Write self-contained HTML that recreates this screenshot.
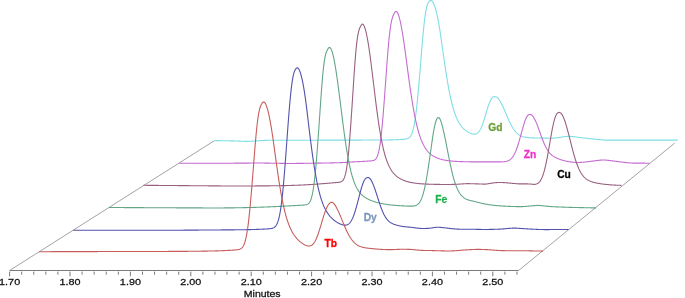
<!DOCTYPE html>
<html><head><meta charset="utf-8"><style>
html,body{margin:0;padding:0;background:#fff;}
svg{display:block;}
</style></head><body>
<svg width="685" height="298" viewBox="0 0 685 298">
<g stroke="#7a7a7a" stroke-width="1" fill="none">
<line x1="9.6" y1="270.5" x2="518.6" y2="270.5"/>
<line x1="9.60" y1="271.6" x2="9.60" y2="276.3"/>
<line x1="21.68" y1="271.6" x2="21.68" y2="274.7"/>
<line x1="33.76" y1="271.6" x2="33.76" y2="274.7"/>
<line x1="45.84" y1="271.6" x2="45.84" y2="274.7"/>
<line x1="57.92" y1="271.6" x2="57.92" y2="274.7"/>
<line x1="70.00" y1="271.6" x2="70.00" y2="276.3"/>
<line x1="82.08" y1="271.6" x2="82.08" y2="274.7"/>
<line x1="94.16" y1="271.6" x2="94.16" y2="274.7"/>
<line x1="106.24" y1="271.6" x2="106.24" y2="274.7"/>
<line x1="118.32" y1="271.6" x2="118.32" y2="274.7"/>
<line x1="130.40" y1="271.6" x2="130.40" y2="276.3"/>
<line x1="142.48" y1="271.6" x2="142.48" y2="274.7"/>
<line x1="154.56" y1="271.6" x2="154.56" y2="274.7"/>
<line x1="166.64" y1="271.6" x2="166.64" y2="274.7"/>
<line x1="178.72" y1="271.6" x2="178.72" y2="274.7"/>
<line x1="190.80" y1="271.6" x2="190.80" y2="276.3"/>
<line x1="202.88" y1="271.6" x2="202.88" y2="274.7"/>
<line x1="214.96" y1="271.6" x2="214.96" y2="274.7"/>
<line x1="227.04" y1="271.6" x2="227.04" y2="274.7"/>
<line x1="239.12" y1="271.6" x2="239.12" y2="274.7"/>
<line x1="251.20" y1="271.6" x2="251.20" y2="276.3"/>
<line x1="263.28" y1="271.6" x2="263.28" y2="274.7"/>
<line x1="275.36" y1="271.6" x2="275.36" y2="274.7"/>
<line x1="287.44" y1="271.6" x2="287.44" y2="274.7"/>
<line x1="299.52" y1="271.6" x2="299.52" y2="274.7"/>
<line x1="311.60" y1="271.6" x2="311.60" y2="276.3"/>
<line x1="323.68" y1="271.6" x2="323.68" y2="274.7"/>
<line x1="335.76" y1="271.6" x2="335.76" y2="274.7"/>
<line x1="347.84" y1="271.6" x2="347.84" y2="274.7"/>
<line x1="359.92" y1="271.6" x2="359.92" y2="274.7"/>
<line x1="372.00" y1="271.6" x2="372.00" y2="276.3"/>
<line x1="384.08" y1="271.6" x2="384.08" y2="274.7"/>
<line x1="396.16" y1="271.6" x2="396.16" y2="274.7"/>
<line x1="408.24" y1="271.6" x2="408.24" y2="274.7"/>
<line x1="420.32" y1="271.6" x2="420.32" y2="274.7"/>
<line x1="432.40" y1="271.6" x2="432.40" y2="276.3"/>
<line x1="444.48" y1="271.6" x2="444.48" y2="274.7"/>
<line x1="456.56" y1="271.6" x2="456.56" y2="274.7"/>
<line x1="468.64" y1="271.6" x2="468.64" y2="274.7"/>
<line x1="480.72" y1="271.6" x2="480.72" y2="274.7"/>
<line x1="492.80" y1="271.6" x2="492.80" y2="276.3"/>
<line x1="504.88" y1="271.6" x2="504.88" y2="274.7"/>
<line x1="516.96" y1="271.6" x2="516.96" y2="274.7"/>
</g>
<g stroke="#8c8c8c" stroke-width="0.8" fill="none">
<line x1="9.6" y1="270.5" x2="214.5" y2="140.6"/>
<line x1="518.6" y1="270.5" x2="674.7" y2="143.1"/>
</g>
<path d="M214.50,140.62 L215.00,140.62 L215.50,140.63 L216.00,140.63 L216.50,140.64 L217.00,140.64 L217.50,140.65 L218.00,140.65 L218.50,140.66 L219.00,140.67 L219.50,140.67 L220.00,140.68 L220.50,140.69 L221.00,140.70 L221.50,140.70 L222.00,140.71 L222.50,140.72 L223.00,140.72 L223.50,140.73 L224.00,140.74 L224.50,140.75 L225.00,140.75 L225.50,140.76 L226.00,140.77 L226.50,140.78 L227.00,140.78 L227.50,140.79 L228.00,140.80 L228.50,140.81 L229.00,140.81 L229.50,140.82 L230.00,140.83 L230.50,140.84 L231.00,140.85 L231.50,140.86 L232.00,140.86 L232.50,140.88 L233.00,140.89 L233.50,140.90 L234.00,140.91 L234.50,140.93 L235.00,140.94 L235.50,140.96 L236.00,140.98 L236.50,141.00 L237.00,141.02 L237.50,141.04 L238.00,141.06 L238.50,141.08 L239.00,141.10 L239.50,141.13 L240.00,141.15 L240.50,141.17 L241.00,141.20 L241.50,141.22 L242.00,141.24 L242.50,141.27 L243.00,141.29 L243.50,141.30 L244.00,141.32 L244.50,141.34 L245.00,141.35 L245.50,141.36 L246.00,141.36 L246.50,141.36 L247.00,141.36 L247.50,141.36 L248.00,141.35 L248.50,141.33 L249.00,141.32 L249.50,141.30 L250.00,141.27 L250.50,141.25 L251.00,141.22 L251.50,141.19 L252.00,141.16 L252.50,141.13 L253.00,141.10 L253.50,141.07 L254.00,141.04 L254.50,141.00 L255.00,140.97 L255.50,140.94 L256.00,140.91 L256.50,140.87 L257.00,140.84 L257.50,140.81 L258.00,140.78 L258.50,140.74 L259.00,140.71 L259.50,140.68 L260.00,140.65 L260.50,140.61 L261.00,140.58 L261.50,140.55 L262.00,140.52 L262.50,140.50 L263.00,140.47 L263.50,140.45 L264.00,140.42 L264.50,140.40 L265.00,140.38 L265.50,140.37 L266.00,140.35 L266.50,140.34 L267.00,140.33 L267.50,140.32 L268.00,140.31 L268.50,140.31 L269.00,140.30 L269.50,140.30 L270.00,140.29 L270.50,140.29 L271.00,140.29 L271.50,140.29 L272.00,140.29 L272.50,140.28 L273.00,140.28 L273.50,140.28 L274.00,140.28 L274.50,140.28 L275.00,140.28 L275.50,140.28 L276.00,140.28 L276.50,140.27 L277.00,140.27 L277.50,140.27 L278.00,140.27 L278.50,140.27 L279.00,140.27 L279.50,140.27 L280.00,140.27 L280.50,140.26 L281.00,140.26 L281.50,140.26 L282.00,140.26 L282.50,140.26 L283.00,140.26 L283.50,140.26 L284.00,140.26 L284.50,140.26 L285.00,140.25 L285.50,140.25 L286.00,140.25 L286.50,140.25 L287.00,140.25 L287.50,140.25 L288.00,140.25 L288.50,140.25 L289.00,140.24 L289.50,140.24 L290.00,140.24 L290.50,140.24 L291.00,140.24 L291.50,140.24 L292.00,140.24 L292.50,140.24 L293.00,140.24 L293.50,140.23 L294.00,140.23 L294.50,140.23 L295.00,140.23 L295.50,140.23 L296.00,140.23 L296.50,140.23 L297.00,140.23 L297.50,140.23 L298.00,140.22 L298.50,140.22 L299.00,140.22 L299.50,140.22 L300.00,140.22 L300.50,140.22 L301.00,140.22 L301.50,140.22 L302.00,140.21 L302.50,140.21 L303.00,140.21 L303.50,140.21 L304.00,140.21 L304.50,140.21 L305.00,140.21 L305.50,140.21 L306.00,140.21 L306.50,140.20 L307.00,140.20 L307.50,140.20 L308.00,140.20 L308.50,140.20 L309.00,140.20 L309.50,140.20 L310.00,140.20 L310.50,140.20 L311.00,140.19 L311.50,140.19 L312.00,140.19 L312.50,140.19 L313.00,140.19 L313.50,140.19 L314.00,140.19 L314.50,140.19 L315.00,140.18 L315.50,140.18 L316.00,140.18 L316.50,140.18 L317.00,140.18 L317.50,140.18 L318.00,140.18 L318.50,140.18 L319.00,140.18 L319.50,140.17 L320.00,140.17 L320.50,140.17 L321.00,140.17 L321.50,140.17 L322.00,140.17 L322.50,140.17 L323.00,140.17 L323.50,140.17 L324.00,140.16 L324.50,140.16 L325.00,140.16 L325.50,140.16 L326.00,140.16 L326.50,140.16 L327.00,140.16 L327.50,140.16 L328.00,140.15 L328.50,140.15 L329.00,140.15 L329.50,140.15 L330.00,140.15 L330.50,140.15 L331.00,140.15 L331.50,140.15 L332.00,140.15 L332.50,140.14 L333.00,140.14 L333.50,140.14 L334.00,140.14 L334.50,140.14 L335.00,140.14 L335.50,140.14 L336.00,140.14 L336.50,140.14 L337.00,140.13 L337.50,140.13 L338.00,140.13 L338.50,140.13 L339.00,140.13 L339.50,140.13 L340.00,140.13 L340.50,140.13 L341.00,140.12 L341.50,140.12 L342.00,140.12 L342.50,140.12 L343.00,140.12 L343.50,140.12 L344.00,140.12 L344.50,140.12 L345.00,140.12 L345.50,140.11 L346.00,140.11 L346.50,140.11 L347.00,140.11 L347.50,140.11 L348.00,140.11 L348.50,140.11 L349.00,140.11 L349.50,140.11 L350.00,140.10 L350.50,140.10 L351.00,140.10 L351.50,140.10 L352.00,140.10 L352.50,140.10 L353.00,140.10 L353.50,140.10 L354.00,140.09 L354.50,140.09 L355.00,140.09 L355.50,140.09 L356.00,140.09 L356.50,140.09 L357.00,140.09 L357.50,140.09 L358.00,140.09 L358.50,140.08 L359.00,140.08 L359.50,140.08 L360.00,140.08 L360.50,140.08 L361.00,140.08 L361.50,140.08 L362.00,140.08 L362.50,140.07 L363.00,140.07 L363.50,140.07 L364.00,140.07 L364.50,140.07 L365.00,140.07 L365.50,140.07 L366.00,140.07 L366.50,140.06 L367.00,140.06 L367.50,140.06 L368.00,140.06 L368.50,140.06 L369.00,140.06 L369.50,140.06 L370.00,140.05 L370.50,140.05 L371.00,140.05 L371.50,140.05 L372.00,140.05 L372.50,140.05 L373.00,140.04 L373.50,140.04 L374.00,140.04 L374.50,140.04 L375.00,140.04 L375.50,140.03 L376.00,140.03 L376.50,140.03 L377.00,140.03 L377.50,140.02 L378.00,140.02 L378.50,140.02 L379.00,140.02 L379.50,140.01 L380.00,140.01 L380.50,140.01 L381.00,140.00 L381.50,140.00 L382.00,140.00 L382.50,139.99 L383.00,139.99 L383.50,139.98 L384.00,139.98 L384.50,139.97 L385.00,139.97 L385.50,139.96 L386.00,139.95 L386.50,139.95 L387.00,139.94 L387.50,139.93 L388.00,139.93 L388.50,139.92 L389.00,139.91 L389.50,139.90 L390.00,139.89 L390.50,139.88 L391.00,139.87 L391.50,139.86 L392.00,139.85 L392.50,139.83 L393.00,139.82 L393.50,139.80 L394.00,139.79 L394.50,139.77 L395.00,139.75 L395.50,139.74 L396.00,139.72 L396.50,139.69 L397.00,139.67 L397.50,139.65 L398.00,139.62 L398.50,139.60 L399.00,139.57 L399.50,139.54 L400.00,139.52 L400.50,139.49 L401.00,139.45 L401.50,139.42 L402.00,139.39 L402.50,139.35 L403.00,139.31 L403.50,139.27 L404.00,139.22 L404.50,139.17 L405.00,139.11 L405.50,139.04 L406.00,138.96 L406.50,138.85 L407.00,138.73 L407.50,138.57 L408.00,138.37 L408.50,138.12 L409.00,137.79 L409.50,137.39 L410.00,136.88 L410.50,136.24 L411.00,135.44 L411.50,134.47 L412.00,133.29 L412.50,131.87 L413.00,130.19 L413.50,128.20 L414.00,125.89 L414.50,123.22 L415.00,120.19 L415.50,116.78 L416.00,112.98 L416.50,108.80 L417.00,104.25 L417.50,99.34 L418.00,94.11 L418.50,88.60 L419.00,82.86 L419.50,76.94 L420.00,70.90 L420.50,64.80 L420.99,58.73 L421.48,52.73 L421.96,46.89 L422.44,41.26 L422.92,35.90 L423.39,30.86 L423.86,26.18 L424.33,21.91 L424.81,18.05 L425.28,14.64 L425.75,11.66 L426.23,9.12 L426.71,6.99 L427.20,5.26 L427.68,3.89 L428.17,2.83 L428.67,2.04 L429.16,1.47 L429.66,1.04 L430.15,0.68 L430.65,0.42 L431.15,0.42 L431.65,0.66 L432.16,1.12 L432.66,1.78 L433.17,2.64 L433.68,3.69 L434.19,4.92 L434.71,6.32 L435.22,7.89 L435.74,9.64 L436.25,11.56 L436.77,13.67 L437.29,15.95 L437.81,18.43 L438.33,21.10 L438.85,23.97 L439.37,27.04 L439.89,30.30 L440.41,33.75 L440.92,37.36 L441.44,40.99 L441.95,44.64 L442.47,48.27 L442.98,51.89 L443.49,55.46 L443.99,59.00 L444.50,62.48 L445.00,65.89 L445.50,69.23 L446.00,72.49 L446.50,75.66 L447.00,78.74 L447.50,81.72 L448.00,84.60 L448.50,87.38 L449.00,90.05 L449.50,92.61 L450.00,95.06 L450.50,97.41 L451.00,99.65 L451.50,101.78 L452.00,103.80 L452.50,105.72 L453.00,107.55 L453.50,109.27 L454.00,110.90 L454.50,112.44 L455.00,113.88 L455.50,115.25 L456.00,116.53 L456.50,117.74 L457.00,118.87 L457.50,119.94 L458.00,120.94 L458.50,121.87 L459.00,122.75 L459.50,123.58 L460.00,124.35 L460.50,125.08 L461.00,125.76 L461.50,126.40 L462.00,127.00 L462.50,127.56 L463.00,128.09 L463.50,128.59 L464.00,129.06 L464.50,129.51 L465.00,129.93 L465.50,130.32 L466.00,130.70 L466.50,131.05 L467.00,131.39 L467.50,131.71 L468.00,132.01 L468.50,132.29 L469.00,132.56 L469.50,132.81 L470.00,133.04 L470.50,133.26 L471.00,133.46 L471.50,133.64 L472.00,133.80 L472.50,133.93 L473.00,134.04 L473.50,134.12 L474.00,134.16 L474.50,134.16 L475.00,134.13 L475.50,134.04 L476.00,133.90 L476.50,133.70 L477.00,133.43 L477.50,133.08 L478.00,132.66 L478.50,132.15 L479.00,131.54 L479.50,130.84 L480.00,130.04 L480.50,129.14 L481.00,128.13 L481.50,127.02 L482.00,125.80 L482.50,124.49 L483.00,123.09 L483.50,121.61 L484.00,120.06 L484.50,118.44 L485.00,116.79 L485.50,115.10 L486.00,113.40 L486.50,111.71 L487.00,110.04 L487.50,108.41 L488.00,106.84 L488.50,105.34 L489.00,103.93 L489.50,102.63 L490.00,101.44 L490.50,100.38 L491.00,99.46 L491.50,98.66 L492.00,98.01 L492.50,97.49 L493.00,97.10 L493.50,96.84 L494.00,96.69 L494.50,96.63 L495.00,96.63 L495.50,96.70 L496.00,96.85 L496.50,97.09 L497.00,97.40 L497.50,97.80 L498.00,98.29 L498.50,98.85 L499.00,99.50 L499.50,100.21 L500.00,100.99 L500.50,101.83 L501.00,102.73 L501.50,103.69 L502.00,104.69 L502.50,105.74 L503.00,106.82 L503.50,107.94 L504.00,109.08 L504.50,110.24 L505.00,111.42 L505.50,112.60 L506.00,113.79 L506.50,114.97 L507.00,116.15 L507.50,117.31 L508.00,118.46 L508.50,119.58 L509.00,120.68 L509.50,121.75 L510.00,122.79 L510.50,123.80 L511.00,124.77 L511.50,125.70 L512.00,126.59 L512.50,127.44 L513.00,128.24 L513.50,129.01 L514.00,129.73 L514.50,130.41 L515.00,131.05 L515.50,131.65 L516.00,132.21 L516.50,132.73 L517.00,133.21 L517.50,133.66 L518.00,134.07 L518.50,134.45 L519.00,134.80 L519.50,135.12 L520.00,135.41 L520.50,135.67 L521.00,135.91 L521.50,136.13 L522.00,136.33 L522.50,136.51 L523.00,136.67 L523.50,136.81 L524.00,136.94 L524.50,137.06 L525.00,137.16 L525.50,137.25 L526.00,137.34 L526.50,137.41 L527.00,137.47 L527.50,137.53 L528.00,137.59 L528.50,137.63 L529.00,137.68 L529.50,137.71 L530.00,137.75 L530.50,137.78 L531.00,137.80 L531.50,137.83 L532.00,137.85 L532.50,137.87 L533.00,137.89 L533.50,137.91 L534.00,137.92 L534.50,137.94 L535.00,137.95 L535.50,137.97 L536.00,137.98 L536.50,137.99 L537.00,138.00 L537.50,138.01 L538.00,138.02 L538.50,138.03 L539.00,138.04 L539.50,138.05 L540.00,138.06 L540.50,138.07 L541.00,138.08 L541.50,138.08 L542.00,138.09 L542.50,138.10 L543.00,138.11 L543.50,138.12 L544.00,138.12 L544.50,138.13 L545.00,138.14 L545.50,138.15 L546.00,138.15 L546.50,138.16 L547.00,138.16 L547.50,138.17 L548.00,138.18 L548.50,138.18 L549.00,138.18 L549.50,138.19 L550.00,138.19 L550.50,138.19 L551.00,138.19 L551.50,138.18 L552.00,138.17 L552.50,138.16 L553.00,138.15 L553.50,138.13 L554.00,138.10 L554.50,138.07 L555.00,138.03 L555.50,137.99 L556.00,137.94 L556.50,137.89 L557.00,137.83 L557.50,137.76 L558.00,137.69 L558.50,137.62 L559.00,137.54 L559.50,137.46 L560.00,137.38 L560.50,137.30 L561.00,137.22 L561.50,137.13 L562.00,137.05 L562.50,136.96 L563.00,136.88 L563.50,136.80 L564.00,136.73 L564.50,136.65 L565.00,136.58 L565.50,136.52 L566.00,136.46 L566.50,136.42 L567.00,136.38 L567.50,136.35 L568.00,136.33 L568.50,136.32 L569.00,136.32 L569.50,136.33 L570.00,136.34 L570.50,136.37 L571.00,136.41 L571.50,136.45 L572.00,136.50 L572.50,136.55 L573.00,136.61 L573.50,136.66 L574.00,136.73 L574.50,136.79 L575.00,136.85 L575.50,136.92 L576.00,136.98 L576.50,137.05 L577.00,137.11 L577.50,137.18 L578.00,137.24 L578.50,137.31 L579.00,137.37 L579.50,137.44 L580.00,137.50 L580.50,137.57 L581.00,137.63 L581.50,137.69 L582.00,137.76 L582.50,137.82 L583.00,137.88 L583.50,137.94 L584.00,138.00 L584.50,138.06 L585.00,138.12 L585.50,138.18 L586.00,138.24 L586.50,138.30 L587.00,138.35 L587.50,138.41 L588.00,138.46 L588.50,138.51 L589.00,138.57 L589.50,138.62 L590.00,138.67 L590.50,138.72 L591.00,138.77 L591.50,138.82 L592.00,138.88 L592.50,138.93 L593.00,138.98 L593.50,139.03 L594.00,139.08 L594.50,139.13 L595.00,139.18 L595.50,139.23 L596.00,139.28 L596.50,139.33 L597.00,139.39 L597.50,139.44 L598.00,139.49 L598.50,139.54 L599.00,139.59 L599.50,139.64 L600.00,139.68 L600.50,139.73 L601.00,139.78 L601.50,139.82 L602.00,139.87 L602.50,139.91 L603.00,139.95 L603.50,139.98 L604.00,140.02 L604.50,140.04 L605.00,140.07 L605.50,140.09 L606.00,140.11 L606.50,140.13 L607.00,140.14 L607.50,140.15 L608.00,140.15 L608.50,140.16 L609.00,140.16 L609.50,140.16 L610.00,140.16 L610.50,140.16 L611.00,140.16 L611.50,140.16 L612.00,140.15 L612.50,140.15 L613.00,140.15 L613.50,140.14 L614.00,140.14 L614.50,140.14 L615.00,140.14 L615.50,140.13 L616.00,140.13 L616.50,140.13 L617.00,140.12 L617.50,140.12 L618.00,140.12 L618.50,140.12 L619.00,140.11 L619.50,140.11 L620.00,140.11 L620.50,140.11 L621.00,140.11 L621.50,140.10 L622.00,140.10 L622.50,140.10 L623.00,140.10 L623.50,140.10 L624.00,140.10 L624.50,140.10 L625.00,140.10 L625.50,140.10 L626.00,140.10 L626.50,140.10 L627.00,140.10 L627.50,140.10 L628.00,140.10 L628.50,140.10 L629.00,140.10 L629.50,140.10 L630.00,140.10 L630.50,140.10 L631.00,140.10 L631.50,140.10 L632.00,140.10 L632.50,140.10 L633.00,140.10 L633.50,140.10 L634.00,140.10 L634.50,140.10 L635.00,140.10 L635.50,140.10 L636.00,140.10 L636.50,140.10 L637.00,140.10 L637.50,140.10 L638.00,140.10 L638.50,140.10 L639.00,140.10 L639.50,140.10 L640.00,140.10 L640.50,140.10 L641.00,140.10 L641.50,140.10 L642.00,140.10 L642.50,140.10 L643.00,140.10 L643.50,140.10 L644.00,140.10 L644.50,140.10 L645.00,140.10 L645.50,140.10 L646.00,140.10 L646.50,140.10 L647.00,140.10 L647.50,140.10 L648.00,140.10 L648.50,140.10 L649.00,140.10 L649.50,140.10 L650.00,140.10 L650.50,140.10 L651.00,140.10 L651.50,140.10 L652.00,140.10 L652.50,140.10 L653.00,140.10 L653.50,140.10 L654.00,140.10 L654.50,140.10 L655.00,140.10 L655.50,140.10 L656.00,140.10 L656.50,140.10 L657.00,140.10 L657.50,140.10 L658.00,140.10 L658.50,140.10 L659.00,140.10 L659.50,140.10 L660.00,140.10 L660.50,140.10 L661.00,140.10 L661.50,140.10 L662.00,140.10 L662.50,140.10 L663.00,140.10 L663.50,140.10 L664.00,140.10 L664.50,140.10 L665.00,140.10 L665.50,140.10 L666.00,140.10 L666.50,140.10 L667.00,140.10 L667.50,140.10 L668.00,140.10 L668.50,140.10 L669.00,140.10 L669.50,140.10 L670.00,140.10 L670.50,140.10 L671.00,140.10 L671.50,140.10 L672.00,140.10 L672.50,140.10 L673.00,140.10 L673.50,140.10 L674.00,140.10 L674.50,140.10 L675.00,140.10 L675.50,140.10 L676.00,140.10 L676.50,140.10 L677.00,140.10 L677.50,140.10 L677.80,140.10" stroke="#7EDEE4" stroke-width="1.1" fill="none" stroke-linejoin="round"/>
<path d="M179.20,163.20 L179.70,163.20 L180.20,163.20 L180.70,163.20 L181.20,163.20 L181.70,163.20 L182.20,163.20 L182.70,163.20 L183.20,163.20 L183.70,163.20 L184.20,163.20 L184.70,163.20 L185.20,163.20 L185.70,163.20 L186.20,163.20 L186.70,163.20 L187.20,163.20 L187.70,163.20 L188.20,163.20 L188.70,163.20 L189.20,163.20 L189.70,163.20 L190.20,163.20 L190.70,163.20 L191.20,163.20 L191.70,163.20 L192.20,163.20 L192.70,163.20 L193.20,163.20 L193.70,163.20 L194.20,163.20 L194.70,163.20 L195.20,163.20 L195.70,163.20 L196.20,163.20 L196.70,163.20 L197.20,163.20 L197.70,163.20 L198.20,163.20 L198.70,163.20 L199.20,163.20 L199.70,163.20 L200.20,163.20 L200.70,163.20 L201.20,163.20 L201.70,163.20 L202.20,163.20 L202.70,163.20 L203.20,163.20 L203.70,163.20 L204.20,163.20 L204.70,163.20 L205.20,163.20 L205.70,163.20 L206.20,163.20 L206.70,163.20 L207.20,163.20 L207.70,163.20 L208.20,163.20 L208.70,163.20 L209.20,163.20 L209.70,163.20 L210.20,163.20 L210.70,163.20 L211.20,163.20 L211.70,163.20 L212.20,163.20 L212.70,163.20 L213.20,163.20 L213.70,163.20 L214.20,163.20 L214.70,163.20 L215.20,163.20 L215.70,163.20 L216.20,163.20 L216.70,163.20 L217.20,163.20 L217.70,163.20 L218.20,163.20 L218.70,163.20 L219.20,163.20 L219.70,163.20 L220.20,163.20 L220.70,163.20 L221.20,163.20 L221.70,163.20 L222.20,163.20 L222.70,163.20 L223.20,163.20 L223.70,163.20 L224.20,163.20 L224.70,163.20 L225.20,163.20 L225.70,163.20 L226.20,163.20 L226.70,163.20 L227.20,163.20 L227.70,163.20 L228.20,163.20 L228.70,163.20 L229.20,163.19 L229.70,163.19 L230.20,163.19 L230.70,163.19 L231.20,163.19 L231.70,163.19 L232.20,163.18 L232.70,163.18 L233.20,163.18 L233.70,163.18 L234.20,163.17 L234.70,163.17 L235.20,163.17 L235.70,163.16 L236.20,163.16 L236.70,163.16 L237.20,163.15 L237.70,163.15 L238.20,163.15 L238.70,163.14 L239.20,163.14 L239.70,163.14 L240.20,163.14 L240.70,163.13 L241.20,163.13 L241.70,163.13 L242.20,163.12 L242.70,163.12 L243.20,163.12 L243.70,163.11 L244.20,163.11 L244.70,163.11 L245.20,163.10 L245.70,163.10 L246.20,163.10 L246.70,163.09 L247.20,163.09 L247.70,163.09 L248.20,163.08 L248.70,163.08 L249.20,163.08 L249.70,163.07 L250.20,163.07 L250.70,163.07 L251.20,163.07 L251.70,163.06 L252.20,163.06 L252.70,163.06 L253.20,163.05 L253.70,163.05 L254.20,163.05 L254.70,163.04 L255.20,163.04 L255.70,163.04 L256.20,163.03 L256.70,163.03 L257.20,163.03 L257.70,163.02 L258.20,163.02 L258.70,163.02 L259.20,163.02 L259.70,163.02 L260.20,163.02 L260.70,163.03 L261.20,163.03 L261.70,163.04 L262.20,163.05 L262.70,163.05 L263.20,163.06 L263.70,163.07 L264.20,163.08 L264.70,163.09 L265.20,163.09 L265.70,163.10 L266.20,163.11 L266.70,163.12 L267.20,163.13 L267.70,163.14 L268.20,163.14 L268.70,163.15 L269.20,163.16 L269.70,163.17 L270.20,163.18 L270.70,163.18 L271.20,163.19 L271.70,163.20 L272.20,163.21 L272.70,163.22 L273.20,163.23 L273.70,163.23 L274.20,163.24 L274.70,163.25 L275.20,163.26 L275.70,163.27 L276.20,163.27 L276.70,163.28 L277.20,163.29 L277.70,163.30 L278.20,163.31 L278.70,163.32 L279.20,163.32 L279.70,163.33 L280.20,163.34 L280.70,163.35 L281.20,163.36 L281.70,163.36 L282.20,163.37 L282.70,163.38 L283.20,163.39 L283.70,163.40 L284.20,163.41 L284.70,163.41 L285.20,163.42 L285.70,163.43 L286.20,163.44 L286.70,163.45 L287.20,163.45 L287.70,163.46 L288.20,163.47 L288.70,163.47 L289.20,163.48 L289.70,163.48 L290.20,163.48 L290.70,163.48 L291.20,163.48 L291.70,163.48 L292.20,163.47 L292.70,163.47 L293.20,163.46 L293.70,163.45 L294.20,163.45 L294.70,163.44 L295.20,163.44 L295.70,163.43 L296.20,163.42 L296.70,163.42 L297.20,163.41 L297.70,163.41 L298.20,163.40 L298.70,163.39 L299.20,163.39 L299.70,163.38 L300.20,163.37 L300.70,163.37 L301.20,163.36 L301.70,163.36 L302.20,163.35 L302.70,163.34 L303.20,163.34 L303.70,163.33 L304.20,163.32 L304.70,163.32 L305.20,163.31 L305.70,163.30 L306.20,163.30 L306.70,163.29 L307.20,163.28 L307.70,163.28 L308.20,163.27 L308.70,163.26 L309.20,163.26 L309.70,163.25 L310.20,163.24 L310.70,163.24 L311.20,163.23 L311.70,163.22 L312.20,163.22 L312.70,163.21 L313.20,163.20 L313.70,163.20 L314.20,163.19 L314.70,163.18 L315.20,163.17 L315.70,163.17 L316.20,163.16 L316.70,163.15 L317.20,163.14 L317.70,163.14 L318.20,163.13 L318.70,163.12 L319.20,163.11 L319.70,163.10 L320.20,163.10 L320.70,163.09 L321.20,163.08 L321.70,163.07 L322.20,163.06 L322.70,163.06 L323.20,163.05 L323.70,163.04 L324.20,163.03 L324.70,163.02 L325.20,163.01 L325.70,163.00 L326.20,162.99 L326.70,162.99 L327.20,162.98 L327.70,162.97 L328.20,162.96 L328.70,162.95 L329.20,162.94 L329.70,162.93 L330.20,162.92 L330.70,162.91 L331.20,162.89 L331.70,162.88 L332.20,162.87 L332.70,162.86 L333.20,162.85 L333.70,162.84 L334.20,162.83 L334.70,162.81 L335.20,162.80 L335.70,162.79 L336.20,162.78 L336.70,162.76 L337.20,162.75 L337.70,162.74 L338.20,162.73 L338.70,162.71 L339.20,162.70 L339.70,162.68 L340.20,162.67 L340.70,162.65 L341.20,162.64 L341.70,162.62 L342.20,162.60 L342.70,162.57 L343.20,162.55 L343.70,162.52 L344.20,162.49 L344.70,162.45 L345.20,162.42 L345.70,162.39 L346.20,162.35 L346.70,162.31 L347.20,162.28 L347.70,162.24 L348.20,162.21 L348.70,162.17 L349.20,162.13 L349.70,162.09 L350.20,162.06 L350.70,162.02 L351.20,161.99 L351.70,161.96 L352.20,161.93 L352.70,161.90 L353.20,161.88 L353.70,161.85 L354.20,161.83 L354.70,161.81 L355.20,161.79 L355.70,161.76 L356.20,161.74 L356.70,161.72 L357.20,161.70 L357.70,161.67 L358.20,161.65 L358.70,161.63 L359.20,161.60 L359.70,161.58 L360.20,161.55 L360.70,161.53 L361.20,161.50 L361.70,161.48 L362.20,161.45 L362.70,161.42 L363.20,161.40 L363.70,161.37 L364.20,161.34 L364.70,161.31 L365.20,161.28 L365.70,161.25 L366.20,161.22 L366.70,161.19 L367.20,161.16 L367.70,161.13 L368.20,161.10 L368.70,161.07 L369.20,161.03 L369.70,161.00 L370.20,160.96 L370.70,160.92 L371.20,160.87 L371.70,160.81 L372.20,160.74 L372.70,160.65 L373.20,160.53 L373.70,160.38 L374.20,160.17 L374.70,159.89 L375.20,159.52 L375.70,159.04 L376.20,158.40 L376.70,157.58 L377.20,156.54 L377.70,155.24 L378.20,153.63 L378.70,151.67 L379.20,149.32 L379.70,146.54 L380.20,143.31 L380.70,139.61 L381.20,135.42 L381.70,130.76 L382.20,125.63 L382.70,120.06 L383.20,114.11 L383.70,107.83 L384.20,101.29 L384.70,94.57 L385.20,87.74 L385.70,80.91 L386.19,74.14 L386.67,67.53 L387.15,61.16 L387.62,55.09 L388.09,49.38 L388.56,44.08 L389.02,39.22 L389.49,34.84 L389.95,30.92 L390.42,27.48 L390.89,24.49 L391.37,21.93 L391.85,19.77 L392.33,17.97 L392.81,16.48 L393.30,15.26 L393.78,14.24 L394.27,13.38 L394.76,12.61 L395.26,11.89 L395.75,11.46 L396.25,11.40 L396.75,11.66 L397.26,12.25 L397.77,13.14 L398.28,14.34 L398.80,15.82 L399.32,17.57 L399.84,19.59 L400.37,21.85 L400.89,24.35 L401.42,27.07 L401.95,30.00 L402.47,33.11 L403.00,36.40 L403.53,39.84 L404.05,43.43 L404.58,47.13 L405.10,50.93 L405.62,54.76 L406.14,58.62 L406.65,62.47 L407.17,66.32 L407.68,70.14 L408.19,73.92 L408.69,77.66 L409.20,81.33 L409.70,84.93 L410.20,88.46 L410.70,91.89 L411.20,95.24 L411.70,98.48 L412.20,101.62 L412.70,104.66 L413.20,107.58 L413.70,110.40 L414.20,113.10 L414.70,115.69 L415.20,118.17 L415.70,120.53 L416.20,122.79 L416.70,124.93 L417.20,126.97 L417.70,128.91 L418.20,130.74 L418.70,132.48 L419.20,134.13 L419.70,135.68 L420.20,137.15 L420.70,138.54 L421.20,139.84 L421.70,141.07 L422.20,142.23 L422.70,143.32 L423.20,144.35 L423.70,145.32 L424.20,146.23 L424.70,147.09 L425.20,147.89 L425.70,148.65 L426.20,149.37 L426.70,150.04 L427.20,150.67 L427.70,151.27 L428.20,151.83 L428.70,152.36 L429.20,152.86 L429.70,153.33 L430.20,153.78 L430.70,154.20 L431.20,154.60 L431.70,154.98 L432.20,155.33 L432.70,155.67 L433.20,155.99 L433.70,156.29 L434.20,156.58 L434.70,156.85 L435.20,157.11 L435.70,157.35 L436.20,157.58 L436.70,157.80 L437.20,158.01 L437.70,158.21 L438.20,158.40 L438.70,158.58 L439.20,158.75 L439.70,158.91 L440.20,159.06 L440.70,159.21 L441.20,159.34 L441.70,159.47 L442.20,159.60 L442.70,159.72 L443.20,159.83 L443.70,159.93 L444.20,160.03 L444.70,160.13 L445.20,160.22 L445.70,160.31 L446.20,160.39 L446.70,160.47 L447.20,160.54 L447.70,160.61 L448.20,160.68 L448.70,160.74 L449.20,160.80 L449.70,160.86 L450.20,160.91 L450.70,160.96 L451.20,161.01 L451.70,161.06 L452.20,161.10 L452.70,161.15 L453.20,161.19 L453.70,161.23 L454.20,161.26 L454.70,161.30 L455.20,161.33 L455.70,161.36 L456.20,161.39 L456.70,161.42 L457.20,161.45 L457.70,161.47 L458.20,161.50 L458.70,161.52 L459.20,161.54 L459.70,161.56 L460.20,161.58 L460.70,161.60 L461.20,161.62 L461.70,161.64 L462.20,161.66 L462.70,161.67 L463.20,161.69 L463.70,161.70 L464.20,161.72 L464.70,161.73 L465.20,161.74 L465.70,161.75 L466.20,161.76 L466.70,161.77 L467.20,161.78 L467.70,161.79 L468.20,161.80 L468.70,161.81 L469.20,161.82 L469.70,161.83 L470.20,161.84 L470.70,161.84 L471.20,161.85 L471.70,161.86 L472.20,161.86 L472.70,161.87 L473.20,161.87 L473.70,161.88 L474.20,161.88 L474.70,161.89 L475.20,161.89 L475.70,161.89 L476.20,161.90 L476.70,161.90 L477.20,161.90 L477.70,161.91 L478.20,161.91 L478.70,161.91 L479.20,161.91 L479.70,161.91 L480.20,161.92 L480.70,161.92 L481.20,161.92 L481.70,161.92 L482.20,161.92 L482.70,161.92 L483.20,161.92 L483.70,161.92 L484.20,161.92 L484.70,161.92 L485.20,161.92 L485.70,161.92 L486.20,161.92 L486.70,161.92 L487.20,161.92 L487.70,161.92 L488.20,161.92 L488.70,161.92 L489.20,161.92 L489.70,161.92 L490.20,161.92 L490.70,161.92 L491.20,161.92 L491.70,161.92 L492.20,161.92 L492.70,161.91 L493.20,161.91 L493.70,161.91 L494.20,161.91 L494.70,161.91 L495.20,161.91 L495.70,161.91 L496.20,161.90 L496.70,161.90 L497.20,161.90 L497.70,161.89 L498.20,161.89 L498.70,161.89 L499.20,161.88 L499.70,161.87 L500.20,161.86 L500.70,161.85 L501.20,161.84 L501.70,161.82 L502.20,161.80 L502.70,161.78 L503.20,161.74 L503.70,161.70 L504.20,161.66 L504.70,161.59 L505.20,161.52 L505.70,161.43 L506.20,161.33 L506.70,161.20 L507.20,161.06 L507.70,160.88 L508.20,160.68 L508.70,160.44 L509.20,160.17 L509.70,159.85 L510.20,159.49 L510.70,159.08 L511.20,158.61 L511.70,158.09 L512.20,157.49 L512.70,156.83 L513.20,156.10 L513.70,155.29 L514.20,154.40 L514.70,153.42 L515.20,152.36 L515.70,151.22 L516.20,149.99 L516.70,148.67 L517.20,147.27 L517.70,145.79 L518.20,144.23 L518.70,142.61 L519.20,140.92 L519.70,139.18 L520.20,137.40 L520.70,135.59 L521.20,133.76 L521.70,131.93 L522.20,130.11 L522.70,128.32 L523.20,126.58 L523.70,124.89 L524.20,123.29 L524.70,121.77 L525.20,120.37 L525.70,119.09 L526.20,117.95 L526.70,116.96 L527.20,116.13 L527.70,115.47 L528.20,114.99 L528.70,114.68 L529.20,114.54 L529.70,114.48 L530.20,114.50 L530.70,114.61 L531.20,114.82 L531.70,115.13 L532.20,115.54 L532.70,116.06 L533.20,116.69 L533.70,117.41 L534.20,118.23 L534.70,119.15 L535.20,120.15 L535.70,121.23 L536.20,122.39 L536.70,123.61 L537.20,124.89 L537.70,126.21 L538.20,127.58 L538.70,128.97 L539.20,130.38 L539.70,131.80 L540.20,133.21 L540.70,134.63 L541.20,136.02 L541.70,137.39 L542.20,138.73 L542.70,140.04 L543.20,141.30 L543.70,142.52 L544.20,143.69 L544.70,144.81 L545.20,145.87 L545.70,146.88 L546.20,147.84 L546.70,148.73 L547.20,149.57 L547.70,150.36 L548.20,151.10 L548.70,151.78 L549.20,152.42 L549.70,153.01 L550.20,153.55 L550.70,154.06 L551.20,154.53 L551.70,154.97 L552.20,155.38 L552.70,155.76 L553.20,156.11 L553.70,156.44 L554.20,156.75 L554.70,157.04 L555.20,157.32 L555.70,157.58 L556.20,157.83 L556.70,158.07 L557.20,158.29 L557.70,158.51 L558.20,158.72 L558.70,158.92 L559.20,159.11 L559.70,159.30 L560.20,159.48 L560.70,159.65 L561.20,159.82 L561.70,159.98 L562.20,160.14 L562.70,160.29 L563.20,160.44 L563.70,160.57 L564.20,160.71 L564.70,160.84 L565.20,160.96 L565.70,161.08 L566.20,161.19 L566.70,161.30 L567.20,161.40 L567.70,161.49 L568.20,161.58 L568.70,161.67 L569.20,161.75 L569.70,161.83 L570.20,161.90 L570.70,161.96 L571.20,162.03 L571.70,162.08 L572.20,162.14 L572.70,162.19 L573.20,162.23 L573.70,162.28 L574.20,162.32 L574.70,162.35 L575.20,162.38 L575.70,162.41 L576.20,162.43 L576.70,162.44 L577.20,162.46 L577.70,162.46 L578.20,162.46 L578.70,162.46 L579.20,162.45 L579.70,162.43 L580.20,162.41 L580.70,162.39 L581.20,162.36 L581.70,162.32 L582.20,162.28 L582.70,162.24 L583.20,162.19 L583.70,162.14 L584.20,162.09 L584.70,162.04 L585.20,161.99 L585.70,161.93 L586.20,161.88 L586.70,161.82 L587.20,161.76 L587.70,161.71 L588.20,161.65 L588.70,161.59 L589.20,161.53 L589.70,161.47 L590.20,161.41 L590.70,161.35 L591.20,161.29 L591.70,161.23 L592.20,161.16 L592.70,161.10 L593.20,161.04 L593.70,160.97 L594.20,160.91 L594.70,160.84 L595.20,160.78 L595.70,160.71 L596.20,160.65 L596.70,160.58 L597.20,160.52 L597.70,160.46 L598.20,160.39 L598.70,160.33 L599.20,160.28 L599.70,160.22 L600.20,160.17 L600.70,160.13 L601.20,160.09 L601.70,160.06 L602.20,160.04 L602.70,160.02 L603.20,160.01 L603.70,160.01 L604.20,160.02 L604.70,160.04 L605.20,160.07 L605.70,160.10 L606.20,160.14 L606.70,160.18 L607.20,160.23 L607.70,160.28 L608.20,160.34 L608.70,160.40 L609.20,160.46 L609.70,160.52 L610.20,160.58 L610.70,160.64 L611.20,160.71 L611.70,160.77 L612.20,160.83 L612.70,160.90 L613.20,160.96 L613.70,161.02 L614.20,161.09 L614.70,161.15 L615.20,161.21 L615.70,161.28 L616.20,161.34 L616.70,161.41 L617.20,161.47 L617.70,161.53 L618.20,161.60 L618.70,161.66 L619.20,161.72 L619.70,161.79 L620.20,161.85 L620.70,161.92 L621.20,161.98 L621.70,162.04 L622.20,162.11 L622.70,162.17 L623.20,162.23 L623.70,162.30 L624.20,162.36 L624.70,162.42 L625.20,162.48 L625.70,162.54 L626.20,162.60 L626.70,162.65 L627.20,162.71 L627.70,162.76 L628.20,162.81 L628.70,162.85 L629.20,162.90 L629.70,162.93 L630.20,162.97 L630.70,163.00 L631.20,163.02 L631.70,163.04 L632.20,163.06 L632.70,163.08 L633.20,163.09 L633.70,163.10 L634.20,163.11 L634.70,163.11 L635.20,163.12 L635.70,163.13 L636.20,163.13 L636.70,163.13 L637.20,163.14 L637.70,163.14 L638.20,163.14 L638.70,163.14 L639.20,163.15 L639.70,163.15 L640.20,163.15 L640.70,163.15 L641.20,163.16 L641.70,163.16 L642.20,163.16 L642.70,163.16 L643.20,163.17 L643.70,163.17 L644.20,163.17 L644.70,163.17 L645.20,163.18 L645.70,163.18 L646.20,163.18 L646.70,163.18 L647.20,163.19 L647.70,163.19 L648.20,163.19 L648.70,163.19 L649.20,163.19 L649.60,163.19" stroke="#C46CD0" stroke-width="1.1" fill="none" stroke-linejoin="round"/>
<path d="M143.40,185.31 L143.90,185.31 L144.40,185.31 L144.90,185.32 L145.40,185.32 L145.90,185.32 L146.40,185.33 L146.90,185.33 L147.40,185.33 L147.90,185.34 L148.40,185.34 L148.90,185.34 L149.40,185.35 L149.90,185.35 L150.40,185.36 L150.90,185.36 L151.40,185.36 L151.90,185.37 L152.40,185.37 L152.90,185.38 L153.40,185.38 L153.90,185.38 L154.40,185.39 L154.90,185.39 L155.40,185.40 L155.90,185.40 L156.40,185.41 L156.90,185.41 L157.40,185.41 L157.90,185.42 L158.40,185.42 L158.90,185.43 L159.40,185.43 L159.90,185.43 L160.40,185.44 L160.90,185.44 L161.40,185.45 L161.90,185.45 L162.40,185.45 L162.90,185.46 L163.40,185.46 L163.90,185.47 L164.40,185.47 L164.90,185.47 L165.40,185.48 L165.90,185.48 L166.40,185.49 L166.90,185.49 L167.40,185.49 L167.90,185.50 L168.40,185.50 L168.90,185.51 L169.40,185.51 L169.90,185.51 L170.40,185.52 L170.90,185.52 L171.40,185.53 L171.90,185.53 L172.40,185.53 L172.90,185.54 L173.40,185.54 L173.90,185.55 L174.40,185.55 L174.90,185.55 L175.40,185.56 L175.90,185.56 L176.40,185.57 L176.90,185.57 L177.40,185.57 L177.90,185.58 L178.40,185.58 L178.90,185.59 L179.40,185.59 L179.90,185.60 L180.40,185.60 L180.90,185.60 L181.40,185.61 L181.90,185.61 L182.40,185.62 L182.90,185.62 L183.40,185.62 L183.90,185.63 L184.40,185.63 L184.90,185.64 L185.40,185.64 L185.90,185.64 L186.40,185.65 L186.90,185.65 L187.40,185.66 L187.90,185.66 L188.40,185.66 L188.90,185.67 L189.40,185.67 L189.90,185.68 L190.40,185.68 L190.90,185.68 L191.40,185.69 L191.90,185.69 L192.40,185.70 L192.90,185.70 L193.40,185.70 L193.90,185.71 L194.40,185.71 L194.90,185.72 L195.40,185.72 L195.90,185.72 L196.40,185.73 L196.90,185.73 L197.40,185.74 L197.90,185.74 L198.40,185.74 L198.90,185.75 L199.40,185.75 L199.90,185.76 L200.40,185.76 L200.90,185.76 L201.40,185.77 L201.90,185.77 L202.40,185.78 L202.90,185.78 L203.40,185.78 L203.90,185.79 L204.40,185.79 L204.90,185.80 L205.40,185.80 L205.90,185.81 L206.40,185.81 L206.90,185.81 L207.40,185.82 L207.90,185.82 L208.40,185.83 L208.90,185.83 L209.40,185.83 L209.90,185.84 L210.40,185.84 L210.90,185.85 L211.40,185.85 L211.90,185.85 L212.40,185.86 L212.90,185.86 L213.40,185.87 L213.90,185.87 L214.40,185.87 L214.90,185.88 L215.40,185.88 L215.90,185.89 L216.40,185.89 L216.90,185.89 L217.40,185.90 L217.90,185.90 L218.40,185.91 L218.90,185.91 L219.40,185.91 L219.90,185.92 L220.40,185.92 L220.90,185.93 L221.40,185.93 L221.90,185.93 L222.40,185.94 L222.90,185.94 L223.40,185.95 L223.90,185.95 L224.40,185.95 L224.90,185.96 L225.40,185.96 L225.90,185.96 L226.40,185.97 L226.90,185.97 L227.40,185.97 L227.90,185.98 L228.40,185.98 L228.90,185.98 L229.40,185.98 L229.90,185.99 L230.40,185.99 L230.90,185.99 L231.40,185.99 L231.90,185.99 L232.40,185.99 L232.90,185.99 L233.40,185.99 L233.90,185.99 L234.40,185.99 L234.90,185.99 L235.40,185.99 L235.90,185.98 L236.40,185.98 L236.90,185.98 L237.40,185.98 L237.90,185.98 L238.40,185.98 L238.90,185.98 L239.40,185.98 L239.90,185.97 L240.40,185.97 L240.90,185.97 L241.40,185.97 L241.90,185.97 L242.40,185.97 L242.90,185.97 L243.40,185.97 L243.90,185.96 L244.40,185.96 L244.90,185.96 L245.40,185.96 L245.90,185.96 L246.40,185.96 L246.90,185.95 L247.40,185.95 L247.90,185.95 L248.40,185.95 L248.90,185.95 L249.40,185.95 L249.90,185.94 L250.40,185.94 L250.90,185.94 L251.40,185.94 L251.90,185.94 L252.40,185.94 L252.90,185.93 L253.40,185.93 L253.90,185.93 L254.40,185.93 L254.90,185.93 L255.40,185.92 L255.90,185.92 L256.40,185.92 L256.90,185.92 L257.40,185.91 L257.90,185.91 L258.40,185.91 L258.90,185.91 L259.40,185.90 L259.90,185.90 L260.40,185.90 L260.90,185.90 L261.40,185.89 L261.90,185.89 L262.40,185.89 L262.90,185.88 L263.40,185.88 L263.90,185.88 L264.40,185.87 L264.90,185.87 L265.40,185.87 L265.90,185.86 L266.40,185.86 L266.90,185.86 L267.40,185.85 L267.90,185.85 L268.40,185.84 L268.90,185.84 L269.40,185.83 L269.90,185.83 L270.40,185.82 L270.90,185.82 L271.40,185.81 L271.90,185.81 L272.40,185.80 L272.90,185.80 L273.40,185.79 L273.90,185.79 L274.40,185.78 L274.90,185.78 L275.40,185.77 L275.90,185.76 L276.40,185.76 L276.90,185.75 L277.40,185.74 L277.90,185.73 L278.40,185.73 L278.90,185.72 L279.40,185.71 L279.90,185.70 L280.40,185.69 L280.90,185.68 L281.40,185.67 L281.90,185.66 L282.40,185.65 L282.90,185.64 L283.40,185.63 L283.90,185.62 L284.40,185.61 L284.90,185.60 L285.40,185.59 L285.90,185.58 L286.40,185.56 L286.90,185.55 L287.40,185.54 L287.90,185.52 L288.40,185.51 L288.90,185.50 L289.40,185.48 L289.90,185.47 L290.40,185.45 L290.90,185.44 L291.40,185.42 L291.90,185.41 L292.40,185.39 L292.90,185.37 L293.40,185.36 L293.90,185.34 L294.40,185.32 L294.90,185.30 L295.40,185.28 L295.90,185.27 L296.40,185.25 L296.90,185.23 L297.40,185.21 L297.90,185.19 L298.40,185.17 L298.90,185.15 L299.40,185.12 L299.90,185.10 L300.40,185.08 L300.90,185.06 L301.40,185.04 L301.90,185.01 L302.40,184.99 L302.90,184.96 L303.40,184.94 L303.90,184.91 L304.40,184.89 L304.90,184.86 L305.40,184.84 L305.90,184.81 L306.40,184.78 L306.90,184.76 L307.40,184.73 L307.90,184.70 L308.40,184.67 L308.90,184.64 L309.40,184.61 L309.90,184.58 L310.40,184.55 L310.90,184.52 L311.40,184.49 L311.90,184.46 L312.40,184.43 L312.90,184.39 L313.40,184.36 L313.90,184.33 L314.40,184.29 L314.90,184.26 L315.40,184.23 L315.90,184.19 L316.40,184.16 L316.90,184.12 L317.40,184.08 L317.90,184.05 L318.40,184.01 L318.90,183.97 L319.40,183.94 L319.90,183.90 L320.40,183.86 L320.90,183.82 L321.40,183.79 L321.90,183.75 L322.40,183.71 L322.90,183.67 L323.40,183.63 L323.90,183.59 L324.40,183.55 L324.90,183.51 L325.40,183.47 L325.90,183.43 L326.40,183.39 L326.90,183.34 L327.40,183.30 L327.90,183.26 L328.40,183.22 L328.90,183.18 L329.40,183.14 L329.90,183.09 L330.40,183.05 L330.90,183.01 L331.40,182.97 L331.90,182.93 L332.40,182.88 L332.90,182.84 L333.40,182.80 L333.90,182.76 L334.40,182.71 L334.90,182.67 L335.40,182.63 L335.90,182.59 L336.40,182.54 L336.90,182.50 L337.40,182.45 L337.90,182.40 L338.40,182.35 L338.90,182.28 L339.40,182.20 L339.90,182.11 L340.40,181.98 L340.90,181.82 L341.40,181.60 L341.90,181.30 L342.40,180.91 L342.90,180.38 L343.40,179.69 L343.90,178.80 L344.40,177.65 L344.90,176.21 L345.40,174.42 L345.90,172.22 L346.40,169.59 L346.90,166.46 L347.40,162.82 L347.90,158.64 L348.40,153.91 L348.90,148.63 L349.40,142.85 L349.90,136.58 L350.40,129.90 L350.90,122.87 L351.40,115.58 L351.90,108.13 L352.40,100.61 L352.89,93.14 L353.37,85.80 L353.83,78.69 L354.29,71.91 L354.74,65.52 L355.19,59.59 L355.63,54.16 L356.07,49.26 L356.52,44.90 L356.97,41.09 L357.42,37.81 L357.88,35.03 L358.34,32.71 L358.81,30.79 L359.29,29.23 L359.77,27.96 L360.25,26.92 L360.73,26.03 L361.22,25.23 L361.71,24.53 L362.20,24.17 L362.70,24.17 L363.21,24.52 L363.72,25.20 L364.24,26.22 L364.76,27.57 L365.29,29.23 L365.82,31.19 L366.35,33.46 L366.89,36.00 L367.44,38.82 L367.98,41.89 L368.52,45.21 L369.07,48.74 L369.61,52.49 L370.15,56.42 L370.70,60.51 L371.23,64.74 L371.77,69.03 L372.30,73.35 L372.83,77.67 L373.35,81.99 L373.87,86.29 L374.38,90.54 L374.89,94.73 L375.40,98.85 L375.90,102.89 L376.40,106.84 L376.90,110.68 L377.40,114.41 L377.90,118.01 L378.40,121.50 L378.90,124.85 L379.40,128.07 L379.90,131.16 L380.40,134.11 L380.90,136.93 L381.40,139.61 L381.90,142.16 L382.40,144.58 L382.90,146.87 L383.40,149.03 L383.90,151.07 L384.40,153.00 L384.90,154.81 L385.40,156.51 L385.90,158.11 L386.40,159.62 L386.90,161.03 L387.40,162.35 L387.90,163.59 L388.40,164.75 L388.90,165.84 L389.40,166.86 L389.90,167.82 L390.40,168.71 L390.90,169.55 L391.40,170.34 L391.90,171.08 L392.40,171.77 L392.90,172.42 L393.40,173.04 L393.90,173.61 L394.40,174.16 L394.90,174.67 L395.40,175.15 L395.90,175.61 L396.40,176.04 L396.90,176.45 L397.40,176.84 L397.90,177.21 L398.40,177.56 L398.90,177.89 L399.40,178.20 L399.90,178.50 L400.40,178.79 L400.90,179.06 L401.40,179.32 L401.90,179.56 L402.40,179.80 L402.90,180.02 L403.40,180.23 L403.90,180.44 L404.40,180.63 L404.90,180.81 L405.40,180.99 L405.90,181.16 L406.40,181.32 L406.90,181.47 L407.40,181.61 L407.90,181.75 L408.40,181.88 L408.90,182.01 L409.40,182.13 L409.90,182.24 L410.40,182.35 L410.90,182.45 L411.40,182.55 L411.90,182.65 L412.40,182.74 L412.90,182.82 L413.40,182.90 L413.90,182.98 L414.40,183.06 L414.90,183.13 L415.40,183.20 L415.90,183.26 L416.40,183.32 L416.90,183.38 L417.40,183.44 L417.90,183.49 L418.40,183.54 L418.90,183.59 L419.40,183.64 L419.90,183.68 L420.40,183.72 L420.90,183.76 L421.40,183.80 L421.90,183.83 L422.40,183.86 L422.90,183.89 L423.40,183.92 L423.90,183.95 L424.40,183.98 L424.90,184.00 L425.40,184.03 L425.90,184.05 L426.40,184.08 L426.90,184.10 L427.40,184.12 L427.90,184.14 L428.40,184.16 L428.90,184.18 L429.40,184.19 L429.90,184.21 L430.40,184.23 L430.90,184.24 L431.40,184.26 L431.90,184.27 L432.40,184.29 L432.90,184.30 L433.40,184.31 L433.90,184.33 L434.40,184.34 L434.90,184.35 L435.40,184.36 L435.90,184.37 L436.40,184.38 L436.90,184.39 L437.40,184.40 L437.90,184.40 L438.40,184.41 L438.90,184.41 L439.40,184.42 L439.90,184.42 L440.40,184.43 L440.90,184.43 L441.40,184.43 L441.90,184.44 L442.40,184.44 L442.90,184.44 L443.40,184.44 L443.90,184.44 L444.40,184.44 L444.90,184.45 L445.40,184.45 L445.90,184.45 L446.40,184.45 L446.90,184.44 L447.40,184.44 L447.90,184.44 L448.40,184.44 L448.90,184.44 L449.40,184.44 L449.90,184.44 L450.40,184.43 L450.90,184.43 L451.40,184.43 L451.90,184.42 L452.40,184.42 L452.90,184.41 L453.40,184.41 L453.90,184.40 L454.40,184.39 L454.90,184.37 L455.40,184.35 L455.90,184.33 L456.40,184.30 L456.90,184.27 L457.40,184.24 L457.90,184.21 L458.40,184.18 L458.90,184.14 L459.40,184.11 L459.90,184.07 L460.40,184.04 L460.90,184.01 L461.40,183.97 L461.90,183.94 L462.40,183.90 L462.90,183.87 L463.40,183.83 L463.90,183.80 L464.40,183.77 L464.90,183.74 L465.40,183.71 L465.90,183.68 L466.40,183.67 L466.90,183.66 L467.40,183.65 L467.90,183.65 L468.40,183.66 L468.90,183.66 L469.40,183.67 L469.90,183.69 L470.40,183.70 L470.90,183.71 L471.40,183.73 L471.90,183.74 L472.40,183.75 L472.90,183.76 L473.40,183.78 L473.90,183.79 L474.40,183.80 L474.90,183.81 L475.40,183.83 L475.90,183.84 L476.40,183.85 L476.90,183.87 L477.40,183.88 L477.90,183.90 L478.40,183.91 L478.90,183.93 L479.40,183.95 L479.90,183.97 L480.40,183.99 L480.90,184.01 L481.40,184.03 L481.90,184.05 L482.40,184.07 L482.90,184.09 L483.40,184.10 L483.90,184.11 L484.40,184.11 L484.90,184.10 L485.40,184.08 L485.90,184.04 L486.40,184.00 L486.90,183.94 L487.40,183.87 L487.90,183.80 L488.40,183.72 L488.90,183.64 L489.40,183.56 L489.90,183.48 L490.40,183.40 L490.90,183.32 L491.40,183.24 L491.90,183.16 L492.40,183.09 L492.90,183.01 L493.40,182.94 L493.90,182.87 L494.40,182.81 L494.90,182.75 L495.40,182.70 L495.90,182.66 L496.40,182.62 L496.90,182.58 L497.40,182.55 L497.90,182.53 L498.40,182.50 L498.90,182.48 L499.40,182.47 L499.90,182.47 L500.40,182.47 L500.90,182.48 L501.40,182.50 L501.90,182.52 L502.40,182.54 L502.90,182.57 L503.40,182.60 L503.90,182.63 L504.40,182.66 L504.90,182.69 L505.40,182.73 L505.90,182.76 L506.40,182.80 L506.90,182.84 L507.40,182.88 L507.90,182.92 L508.40,182.96 L508.90,183.01 L509.40,183.05 L509.90,183.10 L510.40,183.15 L510.90,183.19 L511.40,183.24 L511.90,183.29 L512.40,183.34 L512.90,183.38 L513.40,183.43 L513.90,183.48 L514.40,183.52 L514.90,183.57 L515.40,183.62 L515.90,183.66 L516.40,183.71 L516.90,183.75 L517.40,183.79 L517.90,183.82 L518.40,183.85 L518.90,183.87 L519.40,183.88 L519.90,183.89 L520.40,183.90 L520.90,183.90 L521.40,183.91 L521.90,183.91 L522.40,183.91 L522.90,183.91 L523.40,183.91 L523.90,183.91 L524.40,183.91 L524.90,183.91 L525.40,183.91 L525.90,183.92 L526.40,183.92 L526.90,183.92 L527.40,183.92 L527.90,183.92 L528.40,183.93 L528.90,183.95 L529.40,183.97 L529.90,184.00 L530.40,184.04 L530.90,184.08 L531.40,184.13 L531.90,184.19 L532.40,184.24 L532.90,184.29 L533.40,184.33 L533.90,184.35 L534.40,184.36 L534.90,184.33 L535.40,184.28 L535.90,184.19 L536.40,184.05 L536.90,183.86 L537.40,183.62 L537.90,183.32 L538.40,182.95 L538.90,182.50 L539.40,181.98 L539.90,181.36 L540.40,180.65 L540.90,179.82 L541.40,178.88 L541.90,177.82 L542.40,176.61 L542.90,175.27 L543.40,173.78 L543.90,172.14 L544.40,170.34 L544.90,168.39 L545.40,166.29 L545.90,164.05 L546.40,161.67 L546.90,159.17 L547.40,156.56 L547.90,153.85 L548.40,151.07 L548.90,148.23 L549.40,145.36 L549.89,142.48 L550.39,139.63 L550.87,136.81 L551.36,134.07 L551.84,131.42 L552.33,128.88 L552.81,126.49 L553.29,124.26 L553.77,122.20 L554.25,120.34 L554.73,118.67 L555.21,117.22 L555.70,115.97 L556.18,114.94 L556.67,114.11 L557.16,113.47 L557.66,113.00 L558.15,112.69 L558.65,112.48 L559.15,112.40 L559.65,112.45 L560.15,112.64 L560.66,112.98 L561.16,113.47 L561.67,114.10 L562.18,114.88 L562.69,115.79 L563.21,116.84 L563.72,118.02 L564.24,119.33 L564.75,120.75 L565.27,122.28 L565.78,123.91 L566.30,125.63 L566.82,127.44 L567.33,129.32 L567.84,131.24 L568.36,133.20 L568.87,135.19 L569.38,137.19 L569.88,139.20 L570.39,141.21 L570.89,143.20 L571.40,145.18 L571.90,147.13 L572.40,149.05 L572.90,150.93 L573.40,152.76 L573.90,154.54 L574.40,156.27 L574.90,157.93 L575.40,159.54 L575.90,161.07 L576.40,162.55 L576.90,163.95 L577.40,165.28 L577.90,166.55 L578.40,167.75 L578.90,168.88 L579.40,169.94 L579.90,170.94 L580.40,171.87 L580.90,172.75 L581.40,173.57 L581.90,174.33 L582.40,175.03 L582.90,175.69 L583.40,176.30 L583.90,176.86 L584.40,177.38 L584.90,177.86 L585.40,178.31 L585.90,178.72 L586.40,179.10 L586.90,179.45 L587.40,179.78 L587.90,180.08 L588.40,180.35 L588.90,180.61 L589.40,180.85 L589.90,181.07 L590.40,181.28 L590.90,181.47 L591.40,181.65 L591.90,181.82 L592.40,181.98 L592.90,182.13 L593.40,182.28 L593.90,182.41 L594.40,182.54 L594.90,182.66 L595.40,182.78 L595.90,182.89 L596.40,182.99 L596.90,183.09 L597.40,183.19 L597.90,183.29 L598.40,183.38 L598.90,183.46 L599.40,183.55 L599.90,183.63 L600.40,183.71 L600.90,183.78 L601.40,183.86 L601.90,183.93 L602.40,184.00 L602.90,184.06 L603.40,184.13 L603.90,184.19 L604.40,184.25 L604.90,184.31 L605.40,184.37 L605.90,184.42 L606.40,184.47 L606.90,184.52 L607.40,184.57 L607.90,184.62 L608.40,184.66 L608.90,184.71 L609.40,184.75 L609.90,184.79 L610.40,184.83 L610.90,184.86 L611.40,184.90 L611.90,184.93 L612.40,184.97 L612.90,185.00 L613.40,185.03 L613.90,185.05 L614.40,185.08 L614.90,185.11 L615.40,185.13 L615.90,185.16 L616.40,185.18 L616.90,185.20 L617.40,185.22 L617.90,185.24 L618.40,185.26 L618.90,185.28 L619.40,185.30 L619.90,185.31 L620.40,185.33 L620.90,185.34 L621.40,185.35" stroke="#9A6082" stroke-width="1.1" fill="none" stroke-linejoin="round"/>
<path d="M108.90,207.51 L109.40,207.51 L109.90,207.51 L110.40,207.51 L110.90,207.51 L111.40,207.51 L111.90,207.52 L112.40,207.52 L112.90,207.52 L113.40,207.52 L113.90,207.53 L114.40,207.53 L114.90,207.53 L115.40,207.53 L115.90,207.53 L116.40,207.54 L116.90,207.54 L117.40,207.54 L117.90,207.54 L118.40,207.55 L118.90,207.55 L119.40,207.55 L119.90,207.55 L120.40,207.56 L120.90,207.56 L121.40,207.56 L121.90,207.56 L122.40,207.57 L122.90,207.57 L123.40,207.57 L123.90,207.57 L124.40,207.58 L124.90,207.58 L125.40,207.58 L125.90,207.58 L126.40,207.59 L126.90,207.59 L127.40,207.59 L127.90,207.59 L128.40,207.60 L128.90,207.60 L129.40,207.60 L129.90,207.60 L130.40,207.61 L130.90,207.61 L131.40,207.61 L131.90,207.61 L132.40,207.62 L132.90,207.62 L133.40,207.62 L133.90,207.62 L134.40,207.63 L134.90,207.63 L135.40,207.63 L135.90,207.63 L136.40,207.64 L136.90,207.64 L137.40,207.64 L137.90,207.64 L138.40,207.65 L138.90,207.65 L139.40,207.65 L139.90,207.65 L140.40,207.66 L140.90,207.66 L141.40,207.66 L141.90,207.66 L142.40,207.67 L142.90,207.67 L143.40,207.67 L143.90,207.67 L144.40,207.68 L144.90,207.68 L145.40,207.68 L145.90,207.68 L146.40,207.69 L146.90,207.69 L147.40,207.69 L147.90,207.69 L148.40,207.70 L148.90,207.70 L149.40,207.70 L149.90,207.70 L150.40,207.70 L150.90,207.71 L151.40,207.71 L151.90,207.71 L152.40,207.71 L152.90,207.72 L153.40,207.72 L153.90,207.72 L154.40,207.72 L154.90,207.73 L155.40,207.73 L155.90,207.73 L156.40,207.73 L156.90,207.74 L157.40,207.74 L157.90,207.74 L158.40,207.74 L158.90,207.75 L159.40,207.75 L159.90,207.75 L160.40,207.75 L160.90,207.76 L161.40,207.76 L161.90,207.76 L162.40,207.76 L162.90,207.77 L163.40,207.77 L163.90,207.77 L164.40,207.77 L164.90,207.78 L165.40,207.78 L165.90,207.78 L166.40,207.78 L166.90,207.78 L167.40,207.79 L167.90,207.79 L168.40,207.79 L168.90,207.79 L169.40,207.80 L169.90,207.80 L170.40,207.80 L170.90,207.80 L171.40,207.81 L171.90,207.81 L172.40,207.81 L172.90,207.81 L173.40,207.81 L173.90,207.82 L174.40,207.82 L174.90,207.82 L175.40,207.82 L175.90,207.83 L176.40,207.83 L176.90,207.83 L177.40,207.83 L177.90,207.84 L178.40,207.84 L178.90,207.84 L179.40,207.84 L179.90,207.84 L180.40,207.85 L180.90,207.85 L181.40,207.85 L181.90,207.85 L182.40,207.85 L182.90,207.86 L183.40,207.86 L183.90,207.86 L184.40,207.86 L184.90,207.86 L185.40,207.87 L185.90,207.87 L186.40,207.87 L186.90,207.87 L187.40,207.88 L187.90,207.88 L188.40,207.88 L188.90,207.88 L189.40,207.88 L189.90,207.88 L190.40,207.89 L190.90,207.89 L191.40,207.89 L191.90,207.89 L192.40,207.89 L192.90,207.90 L193.40,207.90 L193.90,207.90 L194.40,207.90 L194.90,207.90 L195.40,207.90 L195.90,207.91 L196.40,207.91 L196.90,207.91 L197.40,207.91 L197.90,207.91 L198.40,207.91 L198.90,207.91 L199.40,207.92 L199.90,207.92 L200.40,207.92 L200.90,207.92 L201.40,207.92 L201.90,207.92 L202.40,207.92 L202.90,207.92 L203.40,207.93 L203.90,207.93 L204.40,207.93 L204.90,207.93 L205.40,207.93 L205.90,207.93 L206.40,207.93 L206.90,207.93 L207.40,207.93 L207.90,207.93 L208.40,207.93 L208.90,207.94 L209.40,207.94 L209.90,207.94 L210.40,207.94 L210.90,207.94 L211.40,207.94 L211.90,207.94 L212.40,207.94 L212.90,207.94 L213.40,207.94 L213.90,207.94 L214.40,207.94 L214.90,207.94 L215.40,207.94 L215.90,207.94 L216.40,207.94 L216.90,207.94 L217.40,207.94 L217.90,207.94 L218.40,207.94 L218.90,207.94 L219.40,207.93 L219.90,207.93 L220.40,207.93 L220.90,207.93 L221.40,207.93 L221.90,207.93 L222.40,207.93 L222.90,207.93 L223.40,207.93 L223.90,207.92 L224.40,207.92 L224.90,207.92 L225.40,207.92 L225.90,207.92 L226.40,207.91 L226.90,207.91 L227.40,207.91 L227.90,207.90 L228.40,207.90 L228.90,207.90 L229.40,207.89 L229.90,207.89 L230.40,207.88 L230.90,207.88 L231.40,207.87 L231.90,207.87 L232.40,207.86 L232.90,207.85 L233.40,207.85 L233.90,207.84 L234.40,207.83 L234.90,207.82 L235.40,207.81 L235.90,207.81 L236.40,207.80 L236.90,207.79 L237.40,207.78 L237.90,207.77 L238.40,207.76 L238.90,207.75 L239.40,207.74 L239.90,207.73 L240.40,207.73 L240.90,207.72 L241.40,207.71 L241.90,207.70 L242.40,207.69 L242.90,207.67 L243.40,207.66 L243.90,207.65 L244.40,207.64 L244.90,207.63 L245.40,207.62 L245.90,207.61 L246.40,207.60 L246.90,207.58 L247.40,207.57 L247.90,207.56 L248.40,207.55 L248.90,207.54 L249.40,207.52 L249.90,207.51 L250.40,207.50 L250.90,207.48 L251.40,207.47 L251.90,207.46 L252.40,207.44 L252.90,207.43 L253.40,207.41 L253.90,207.40 L254.40,207.39 L254.90,207.37 L255.40,207.36 L255.90,207.34 L256.40,207.32 L256.90,207.31 L257.40,207.29 L257.90,207.28 L258.40,207.26 L258.90,207.24 L259.40,207.23 L259.90,207.21 L260.40,207.19 L260.90,207.18 L261.40,207.16 L261.90,207.14 L262.40,207.12 L262.90,207.10 L263.40,207.09 L263.90,207.07 L264.40,207.05 L264.90,207.03 L265.40,207.01 L265.90,206.99 L266.40,206.97 L266.90,206.95 L267.40,206.93 L267.90,206.91 L268.40,206.89 L268.90,206.87 L269.40,206.85 L269.90,206.83 L270.40,206.81 L270.90,206.79 L271.40,206.77 L271.90,206.74 L272.40,206.72 L272.90,206.70 L273.40,206.68 L273.90,206.66 L274.40,206.63 L274.90,206.61 L275.40,206.59 L275.90,206.56 L276.40,206.54 L276.90,206.52 L277.40,206.49 L277.90,206.47 L278.40,206.44 L278.90,206.42 L279.40,206.40 L279.90,206.37 L280.40,206.35 L280.90,206.32 L281.40,206.30 L281.90,206.27 L282.40,206.25 L282.90,206.22 L283.40,206.20 L283.90,206.17 L284.40,206.14 L284.90,206.12 L285.40,206.09 L285.90,206.07 L286.40,206.04 L286.90,206.01 L287.40,205.99 L287.90,205.96 L288.40,205.93 L288.90,205.91 L289.40,205.88 L289.90,205.85 L290.40,205.83 L290.90,205.80 L291.40,205.77 L291.90,205.75 L292.40,205.72 L292.90,205.69 L293.40,205.67 L293.90,205.64 L294.40,205.61 L294.90,205.58 L295.40,205.56 L295.90,205.53 L296.40,205.50 L296.90,205.48 L297.40,205.45 L297.90,205.42 L298.40,205.39 L298.90,205.37 L299.40,205.34 L299.90,205.31 L300.40,205.29 L300.90,205.26 L301.40,205.23 L301.90,205.20 L302.40,205.17 L302.90,205.14 L303.40,205.10 L303.90,205.06 L304.40,205.02 L304.90,204.96 L305.40,204.89 L305.90,204.80 L306.40,204.68 L306.90,204.51 L307.40,204.30 L307.90,204.02 L308.40,203.65 L308.90,203.16 L309.40,202.54 L309.90,201.74 L310.40,200.74 L310.90,199.49 L311.40,197.96 L311.90,196.10 L312.40,193.88 L312.90,191.27 L313.40,188.23 L313.90,184.74 L314.40,180.78 L314.90,176.35 L315.40,171.46 L315.90,166.12 L316.40,160.36 L316.90,154.22 L317.40,147.77 L317.90,141.06 L318.40,134.18 L318.90,127.19 L319.39,120.19 L319.88,113.24 L320.34,106.45 L320.80,99.88 L321.25,93.60 L321.68,87.67 L322.12,82.14 L322.55,77.05 L322.98,72.43 L323.41,68.29 L323.85,64.63 L324.29,61.44 L324.74,58.71 L325.19,56.39 L325.65,54.45 L326.12,52.85 L326.59,51.54 L327.07,50.45 L327.55,49.53 L328.03,48.71 L328.51,47.98 L329.00,47.54 L329.50,47.43 L330.00,47.63 L330.52,48.16 L331.04,49.01 L331.56,50.18 L332.09,51.66 L332.63,53.46 L333.18,55.57 L333.72,57.98 L334.28,60.67 L334.83,63.65 L335.39,66.89 L335.95,70.38 L336.51,74.11 L337.06,77.98 L337.62,81.95 L338.17,86.01 L338.71,90.12 L339.25,94.28 L339.79,98.46 L340.32,102.64 L340.85,106.81 L341.37,110.95 L341.88,115.05 L342.39,119.09 L342.90,123.07 L343.40,126.96 L343.90,130.76 L344.40,134.46 L344.90,138.05 L345.40,141.53 L345.90,144.88 L346.40,148.11 L346.90,151.22 L347.40,154.19 L347.90,157.03 L348.40,159.74 L348.90,162.32 L349.40,164.77 L349.90,167.09 L350.40,169.29 L350.90,171.36 L351.40,173.31 L351.90,175.15 L352.40,176.88 L352.90,178.50 L353.40,180.01 L353.90,181.44 L354.40,182.77 L354.90,184.01 L355.40,185.17 L355.90,186.25 L356.40,187.26 L356.90,188.21 L357.40,189.09 L357.90,189.91 L358.40,190.68 L358.90,191.39 L359.40,192.06 L359.90,192.69 L360.40,193.28 L360.90,193.83 L361.40,194.34 L361.90,194.83 L362.40,195.29 L362.90,195.72 L363.40,196.13 L363.90,196.51 L364.40,196.88 L364.90,197.23 L365.40,197.56 L365.90,197.87 L366.40,198.17 L366.90,198.46 L367.40,198.74 L367.90,199.00 L368.40,199.26 L368.90,199.50 L369.40,199.74 L369.90,199.96 L370.40,200.18 L370.90,200.39 L371.40,200.60 L371.90,200.79 L372.40,200.99 L372.90,201.17 L373.40,201.35 L373.90,201.52 L374.40,201.69 L374.90,201.85 L375.40,202.00 L375.90,202.16 L376.40,202.30 L376.90,202.44 L377.40,202.58 L377.90,202.71 L378.40,202.84 L378.90,202.97 L379.40,203.09 L379.90,203.20 L380.40,203.31 L380.90,203.42 L381.40,203.53 L381.90,203.63 L382.40,203.73 L382.90,203.82 L383.40,203.91 L383.90,204.00 L384.40,204.08 L384.90,204.17 L385.40,204.24 L385.90,204.32 L386.40,204.40 L386.90,204.47 L387.40,204.54 L387.90,204.60 L388.40,204.67 L388.90,204.73 L389.40,204.79 L389.90,204.85 L390.40,204.90 L390.90,204.96 L391.40,205.01 L391.90,205.06 L392.40,205.11 L392.90,205.16 L393.40,205.20 L393.90,205.25 L394.40,205.29 L394.90,205.33 L395.40,205.37 L395.90,205.41 L396.40,205.45 L396.90,205.49 L397.40,205.52 L397.90,205.56 L398.40,205.59 L398.90,205.63 L399.40,205.66 L399.90,205.69 L400.40,205.72 L400.90,205.75 L401.40,205.78 L401.90,205.81 L402.40,205.84 L402.90,205.87 L403.40,205.90 L403.90,205.92 L404.40,205.95 L404.90,205.97 L405.40,206.00 L405.90,206.02 L406.40,206.04 L406.90,206.07 L407.40,206.09 L407.90,206.10 L408.40,206.12 L408.90,206.14 L409.40,206.15 L409.90,206.16 L410.40,206.16 L410.90,206.16 L411.40,206.15 L411.90,206.14 L412.40,206.11 L412.90,206.08 L413.40,206.03 L413.90,205.96 L414.40,205.87 L414.90,205.75 L415.40,205.61 L415.90,205.43 L416.40,205.20 L416.90,204.93 L417.40,204.61 L417.90,204.22 L418.40,203.75 L418.90,203.21 L419.40,202.57 L419.90,201.84 L420.40,200.99 L420.90,200.02 L421.40,198.91 L421.90,197.67 L422.40,196.28 L422.90,194.72 L423.40,193.01 L423.90,191.12 L424.40,189.07 L424.90,186.84 L425.40,184.43 L425.90,181.87 L426.40,179.14 L426.90,176.26 L427.40,173.24 L427.90,170.10 L428.40,166.86 L428.90,163.53 L429.40,160.14 L429.89,156.71 L430.38,153.27 L430.86,149.84 L431.34,146.47 L431.81,143.16 L432.28,139.95 L432.74,136.88 L433.20,133.96 L433.66,131.22 L434.12,128.68 L434.58,126.37 L435.04,124.31 L435.51,122.51 L435.98,120.98 L436.45,119.72 L436.93,118.75 L437.41,118.03 L437.90,117.60 L438.40,117.47 L438.90,117.66 L439.42,118.15 L439.93,118.95 L440.46,120.05 L440.99,121.45 L441.52,123.13 L442.06,125.04 L442.59,127.10 L443.13,129.29 L443.67,131.61 L444.20,134.02 L444.74,136.52 L445.27,139.08 L445.80,141.69 L446.32,144.34 L446.84,146.99 L447.36,149.65 L447.88,152.30 L448.39,154.91 L448.90,157.49 L449.40,160.01 L449.90,162.48 L450.40,164.88 L450.90,167.20 L451.40,169.43 L451.90,171.58 L452.40,173.64 L452.90,175.60 L453.40,177.46 L453.90,179.23 L454.40,180.90 L454.90,182.48 L455.40,183.95 L455.90,185.34 L456.40,186.63 L456.90,187.84 L457.40,188.96 L457.90,190.00 L458.40,190.97 L458.90,191.86 L459.40,192.69 L459.90,193.45 L460.40,194.16 L460.90,194.80 L461.40,195.40 L461.90,195.95 L462.40,196.46 L462.90,196.92 L463.40,197.35 L463.90,197.74 L464.40,198.09 L464.90,198.42 L465.40,198.71 L465.90,198.97 L466.40,199.21 L466.90,199.42 L467.40,199.62 L467.90,199.80 L468.40,199.97 L468.90,200.13 L469.40,200.28 L469.90,200.41 L470.40,200.54 L470.90,200.67 L471.40,200.79 L471.90,200.90 L472.40,201.01 L472.90,201.12 L473.40,201.22 L473.90,201.33 L474.40,201.44 L474.90,201.55 L475.40,201.67 L475.90,201.80 L476.40,201.92 L476.90,202.06 L477.40,202.19 L477.90,202.32 L478.40,202.45 L478.90,202.58 L479.40,202.71 L479.90,202.83 L480.40,202.96 L480.90,203.08 L481.40,203.19 L481.90,203.31 L482.40,203.42 L482.90,203.53 L483.40,203.64 L483.90,203.75 L484.40,203.85 L484.90,203.95 L485.40,204.05 L485.90,204.15 L486.40,204.24 L486.90,204.33 L487.40,204.41 L487.90,204.49 L488.40,204.57 L488.90,204.65 L489.40,204.73 L489.90,204.80 L490.40,204.87 L490.90,204.94 L491.40,205.00 L491.90,205.07 L492.40,205.13 L492.90,205.19 L493.40,205.25 L493.90,205.30 L494.40,205.36 L494.90,205.41 L495.40,205.46 L495.90,205.51 L496.40,205.56 L496.90,205.60 L497.40,205.65 L497.90,205.69 L498.40,205.73 L498.90,205.77 L499.40,205.81 L499.90,205.85 L500.40,205.89 L500.90,205.92 L501.40,205.96 L501.90,205.99 L502.40,206.03 L502.90,206.06 L503.40,206.09 L503.90,206.12 L504.40,206.15 L504.90,206.17 L505.40,206.20 L505.90,206.23 L506.40,206.25 L506.90,206.27 L507.40,206.30 L507.90,206.32 L508.40,206.34 L508.90,206.36 L509.40,206.38 L509.90,206.40 L510.40,206.42 L510.90,206.44 L511.40,206.45 L511.90,206.47 L512.40,206.48 L512.90,206.50 L513.40,206.51 L513.90,206.53 L514.40,206.54 L514.90,206.56 L515.40,206.57 L515.90,206.58 L516.40,206.59 L516.90,206.60 L517.40,206.62 L517.90,206.63 L518.40,206.64 L518.90,206.65 L519.40,206.65 L519.90,206.66 L520.40,206.66 L520.90,206.66 L521.40,206.65 L521.90,206.64 L522.40,206.62 L522.90,206.59 L523.40,206.56 L523.90,206.52 L524.40,206.48 L524.90,206.44 L525.40,206.40 L525.90,206.36 L526.40,206.32 L526.90,206.27 L527.40,206.23 L527.90,206.19 L528.40,206.15 L528.90,206.10 L529.40,206.06 L529.90,206.02 L530.40,205.97 L530.90,205.93 L531.40,205.89 L531.90,205.84 L532.40,205.80 L532.90,205.76 L533.40,205.71 L533.90,205.67 L534.40,205.63 L534.90,205.58 L535.40,205.54 L535.90,205.50 L536.40,205.47 L536.90,205.44 L537.40,205.42 L537.90,205.41 L538.40,205.42 L538.90,205.43 L539.40,205.46 L539.90,205.50 L540.40,205.54 L540.90,205.58 L541.40,205.63 L541.90,205.68 L542.40,205.73 L542.90,205.78 L543.40,205.83 L543.90,205.88 L544.40,205.93 L544.90,205.98 L545.40,206.03 L545.90,206.08 L546.40,206.13 L546.90,206.18 L547.40,206.23 L547.90,206.28 L548.40,206.33 L548.90,206.38 L549.40,206.43 L549.90,206.48 L550.40,206.52 L550.90,206.57 L551.40,206.61 L551.90,206.65 L552.40,206.68 L552.90,206.71 L553.40,206.74 L553.90,206.76 L554.40,206.78 L554.90,206.80 L555.40,206.82 L555.90,206.84 L556.40,206.86 L556.90,206.88 L557.40,206.90 L557.90,206.92 L558.40,206.94 L558.90,206.95 L559.40,206.97 L559.90,206.99 L560.40,207.01 L560.90,207.03 L561.40,207.05 L561.90,207.07 L562.40,207.09 L562.90,207.10 L563.40,207.12 L563.90,207.14 L564.40,207.16 L564.90,207.18 L565.40,207.20 L565.90,207.22 L566.40,207.24 L566.90,207.25 L567.40,207.27 L567.90,207.29 L568.40,207.31 L568.90,207.33 L569.40,207.35 L569.90,207.36 L570.40,207.38 L570.90,207.39 L571.40,207.41 L571.90,207.42 L572.40,207.43 L572.90,207.44 L573.40,207.46 L573.90,207.47 L574.40,207.48 L574.90,207.49 L575.40,207.50 L575.90,207.51 L576.40,207.52 L576.90,207.53 L577.40,207.54 L577.90,207.55 L578.40,207.56 L578.90,207.57 L579.40,207.58 L579.90,207.60 L580.40,207.61 L580.90,207.62 L581.40,207.63 L581.90,207.64 L582.40,207.65 L582.90,207.66 L583.40,207.67 L583.90,207.68 L584.40,207.69 L584.90,207.70 L585.40,207.71 L585.90,207.72 L586.40,207.73 L586.90,207.75 L587.40,207.76 L587.90,207.77 L588.40,207.78 L588.90,207.79 L589.40,207.80 L589.90,207.81 L590.40,207.82 L590.90,207.83 L591.40,207.84 L591.90,207.85 L592.40,207.86 L592.90,207.87 L593.40,207.88 L593.90,207.89 L594.40,207.89 L594.90,207.90 L595.40,207.90 L595.90,207.90 L596.10,207.90" stroke="#62A687" stroke-width="1.1" fill="none" stroke-linejoin="round"/>
<path d="M73.30,230.20 L73.80,230.20 L74.30,230.20 L74.80,230.20 L75.30,230.20 L75.80,230.20 L76.30,230.20 L76.80,230.20 L77.30,230.20 L77.80,230.20 L78.30,230.20 L78.80,230.20 L79.30,230.20 L79.80,230.20 L80.30,230.20 L80.80,230.20 L81.30,230.20 L81.80,230.20 L82.30,230.20 L82.80,230.20 L83.30,230.20 L83.80,230.20 L84.30,230.20 L84.80,230.20 L85.30,230.20 L85.80,230.20 L86.30,230.20 L86.80,230.20 L87.30,230.20 L87.80,230.20 L88.30,230.20 L88.80,230.20 L89.30,230.20 L89.80,230.20 L90.30,230.20 L90.80,230.20 L91.30,230.20 L91.80,230.20 L92.30,230.20 L92.80,230.20 L93.30,230.20 L93.80,230.20 L94.30,230.20 L94.80,230.20 L95.30,230.20 L95.80,230.20 L96.30,230.20 L96.80,230.20 L97.30,230.20 L97.80,230.20 L98.30,230.20 L98.80,230.20 L99.30,230.20 L99.80,230.20 L100.30,230.20 L100.80,230.20 L101.30,230.20 L101.80,230.20 L102.30,230.20 L102.80,230.20 L103.30,230.20 L103.80,230.20 L104.30,230.20 L104.80,230.20 L105.30,230.20 L105.80,230.20 L106.30,230.20 L106.80,230.20 L107.30,230.20 L107.80,230.20 L108.30,230.20 L108.80,230.20 L109.30,230.20 L109.80,230.20 L110.30,230.20 L110.80,230.20 L111.30,230.20 L111.80,230.20 L112.30,230.20 L112.80,230.20 L113.30,230.20 L113.80,230.20 L114.30,230.20 L114.80,230.20 L115.30,230.20 L115.80,230.20 L116.30,230.20 L116.80,230.20 L117.30,230.20 L117.80,230.20 L118.30,230.20 L118.80,230.20 L119.30,230.20 L119.80,230.20 L120.30,230.20 L120.80,230.20 L121.30,230.20 L121.80,230.20 L122.30,230.20 L122.80,230.20 L123.30,230.20 L123.80,230.20 L124.30,230.20 L124.80,230.20 L125.30,230.20 L125.80,230.20 L126.30,230.20 L126.80,230.20 L127.30,230.20 L127.80,230.20 L128.30,230.20 L128.80,230.20 L129.30,230.20 L129.80,230.20 L130.30,230.20 L130.80,230.20 L131.30,230.20 L131.80,230.20 L132.30,230.20 L132.80,230.20 L133.30,230.20 L133.80,230.20 L134.30,230.20 L134.80,230.20 L135.30,230.20 L135.80,230.20 L136.30,230.20 L136.80,230.20 L137.30,230.20 L137.80,230.20 L138.30,230.20 L138.80,230.20 L139.30,230.20 L139.80,230.20 L140.30,230.20 L140.80,230.20 L141.30,230.20 L141.80,230.20 L142.30,230.20 L142.80,230.20 L143.30,230.20 L143.80,230.20 L144.30,230.20 L144.80,230.20 L145.30,230.20 L145.80,230.20 L146.30,230.20 L146.80,230.20 L147.30,230.20 L147.80,230.20 L148.30,230.20 L148.80,230.20 L149.30,230.20 L149.80,230.20 L150.30,230.20 L150.80,230.20 L151.30,230.20 L151.80,230.20 L152.30,230.20 L152.80,230.20 L153.30,230.20 L153.80,230.20 L154.30,230.20 L154.80,230.20 L155.30,230.20 L155.80,230.20 L156.30,230.20 L156.80,230.20 L157.30,230.20 L157.80,230.20 L158.30,230.20 L158.80,230.20 L159.30,230.20 L159.80,230.20 L160.30,230.20 L160.80,230.20 L161.30,230.20 L161.80,230.20 L162.30,230.20 L162.80,230.20 L163.30,230.20 L163.80,230.20 L164.30,230.20 L164.80,230.20 L165.30,230.20 L165.80,230.20 L166.30,230.20 L166.80,230.20 L167.30,230.20 L167.80,230.20 L168.30,230.20 L168.80,230.20 L169.30,230.20 L169.80,230.20 L170.30,230.20 L170.80,230.20 L171.30,230.20 L171.80,230.20 L172.30,230.20 L172.80,230.20 L173.30,230.20 L173.80,230.20 L174.30,230.20 L174.80,230.20 L175.30,230.20 L175.80,230.20 L176.30,230.20 L176.80,230.20 L177.30,230.20 L177.80,230.20 L178.30,230.20 L178.80,230.20 L179.30,230.19 L179.80,230.19 L180.30,230.19 L180.80,230.19 L181.30,230.19 L181.80,230.18 L182.30,230.18 L182.80,230.18 L183.30,230.18 L183.80,230.17 L184.30,230.17 L184.80,230.17 L185.30,230.16 L185.80,230.16 L186.30,230.16 L186.80,230.15 L187.30,230.15 L187.80,230.15 L188.30,230.14 L188.80,230.14 L189.30,230.14 L189.80,230.13 L190.30,230.13 L190.80,230.13 L191.30,230.12 L191.80,230.12 L192.30,230.12 L192.80,230.11 L193.30,230.11 L193.80,230.11 L194.30,230.10 L194.80,230.10 L195.30,230.10 L195.80,230.09 L196.30,230.09 L196.80,230.09 L197.30,230.08 L197.80,230.08 L198.30,230.08 L198.80,230.07 L199.30,230.07 L199.80,230.07 L200.30,230.06 L200.80,230.06 L201.30,230.06 L201.80,230.05 L202.30,230.05 L202.80,230.05 L203.30,230.04 L203.80,230.04 L204.30,230.04 L204.80,230.03 L205.30,230.03 L205.80,230.03 L206.30,230.02 L206.80,230.02 L207.30,230.02 L207.80,230.01 L208.30,230.01 L208.80,230.01 L209.30,230.00 L209.80,230.00 L210.30,230.00 L210.80,229.99 L211.30,229.99 L211.80,229.99 L212.30,229.98 L212.80,229.98 L213.30,229.98 L213.80,229.97 L214.30,229.97 L214.80,229.97 L215.30,229.96 L215.80,229.96 L216.30,229.96 L216.80,229.95 L217.30,229.95 L217.80,229.95 L218.30,229.94 L218.80,229.94 L219.30,229.94 L219.80,229.93 L220.30,229.93 L220.80,229.93 L221.30,229.92 L221.80,229.92 L222.30,229.92 L222.80,229.91 L223.30,229.91 L223.80,229.91 L224.30,229.90 L224.80,229.90 L225.30,229.90 L225.80,229.89 L226.30,229.89 L226.80,229.88 L227.30,229.88 L227.80,229.88 L228.30,229.87 L228.80,229.87 L229.30,229.87 L229.80,229.86 L230.30,229.86 L230.80,229.85 L231.30,229.85 L231.80,229.85 L232.30,229.84 L232.80,229.84 L233.30,229.83 L233.80,229.83 L234.30,229.83 L234.80,229.82 L235.30,229.82 L235.80,229.81 L236.30,229.81 L236.80,229.80 L237.30,229.80 L237.80,229.79 L238.30,229.79 L238.80,229.78 L239.30,229.78 L239.80,229.77 L240.30,229.76 L240.80,229.76 L241.30,229.75 L241.80,229.74 L242.30,229.74 L242.80,229.73 L243.30,229.72 L243.80,229.71 L244.30,229.71 L244.80,229.70 L245.30,229.69 L245.80,229.68 L246.30,229.67 L246.80,229.66 L247.30,229.65 L247.80,229.64 L248.30,229.63 L248.80,229.62 L249.30,229.61 L249.80,229.60 L250.30,229.59 L250.80,229.58 L251.30,229.57 L251.80,229.55 L252.30,229.54 L252.80,229.53 L253.30,229.51 L253.80,229.50 L254.30,229.49 L254.80,229.47 L255.30,229.46 L255.80,229.44 L256.30,229.42 L256.80,229.41 L257.30,229.39 L257.80,229.37 L258.30,229.35 L258.80,229.33 L259.30,229.31 L259.80,229.29 L260.30,229.27 L260.80,229.25 L261.30,229.23 L261.80,229.21 L262.30,229.18 L262.80,229.16 L263.30,229.13 L263.80,229.11 L264.30,229.08 L264.80,229.05 L265.30,229.02 L265.80,229.00 L266.30,228.97 L266.80,228.93 L267.30,228.90 L267.80,228.87 L268.30,228.83 L268.80,228.79 L269.30,228.74 L269.80,228.69 L270.30,228.63 L270.80,228.56 L271.30,228.48 L271.80,228.38 L272.30,228.25 L272.80,228.10 L273.30,227.91 L273.80,227.66 L274.30,227.36 L274.80,226.98 L275.30,226.50 L275.80,225.91 L276.30,225.19 L276.80,224.31 L277.30,223.24 L277.80,221.95 L278.30,220.42 L278.80,218.62 L279.30,216.51 L279.80,214.07 L280.30,211.27 L280.80,208.10 L281.30,204.53 L281.80,200.54 L282.30,196.15 L282.80,191.35 L283.30,186.16 L283.80,180.59 L284.30,174.68 L284.80,168.47 L285.30,162.01 L285.80,155.35 L286.30,148.56 L286.80,141.70 L287.30,134.85 L287.80,128.07 L288.30,121.45 L288.80,115.05 L289.30,108.93 L289.80,103.16 L290.30,97.78 L290.80,92.84 L291.30,88.38 L291.80,84.40 L292.30,80.92 L292.80,77.94 L293.30,75.45 L293.80,73.41 L294.30,71.79 L294.80,70.54 L295.30,69.60 L295.80,68.89 L296.30,68.30 L296.80,67.95 L297.30,67.87 L297.80,68.06 L298.30,68.51 L298.80,69.19 L299.30,70.11 L299.80,71.26 L300.30,72.63 L300.80,74.22 L301.30,76.02 L301.80,78.03 L302.30,80.24 L302.80,82.67 L303.30,85.30 L303.80,88.14 L304.30,91.19 L304.80,94.44 L305.30,97.89 L305.80,101.54 L306.30,105.37 L306.80,109.38 L307.30,113.56 L307.80,117.77 L308.30,121.98 L308.80,126.15 L309.30,130.29 L309.80,134.37 L310.30,138.39 L310.80,142.33 L311.30,146.18 L311.80,149.94 L312.30,153.60 L312.80,157.15 L313.30,160.59 L313.80,163.90 L314.30,167.10 L314.80,170.18 L315.30,173.13 L315.80,175.96 L316.30,178.66 L316.80,181.24 L317.30,183.70 L317.80,186.03 L318.30,188.26 L318.80,190.36 L319.30,192.36 L319.80,194.25 L320.30,196.04 L320.80,197.73 L321.30,199.32 L321.80,200.82 L322.30,202.24 L322.80,203.58 L323.30,204.84 L323.80,206.03 L324.30,207.15 L324.80,208.20 L325.30,209.20 L325.80,210.14 L326.30,211.03 L326.80,211.86 L327.30,212.66 L327.80,213.41 L328.30,214.11 L328.80,214.79 L329.30,215.43 L329.80,216.03 L330.30,216.61 L330.80,217.16 L331.30,217.68 L331.80,218.18 L332.30,218.65 L332.80,219.11 L333.30,219.54 L333.80,219.96 L334.30,220.35 L334.80,220.73 L335.30,221.10 L335.80,221.45 L336.30,221.78 L336.80,222.11 L337.30,222.41 L337.80,222.71 L338.30,222.99 L338.80,223.26 L339.30,223.51 L339.80,223.75 L340.30,223.98 L340.80,224.19 L341.30,224.38 L341.80,224.56 L342.30,224.72 L342.80,224.86 L343.30,224.98 L343.80,225.07 L344.30,225.13 L344.80,225.17 L345.30,225.17 L345.80,225.13 L346.30,225.05 L346.80,224.92 L347.30,224.74 L347.80,224.50 L348.30,224.20 L348.80,223.82 L349.30,223.37 L349.80,222.85 L350.30,222.23 L350.80,221.52 L351.30,220.72 L351.80,219.82 L352.30,218.82 L352.80,217.72 L353.30,216.51 L353.80,215.20 L354.30,213.79 L354.80,212.29 L355.30,210.70 L355.80,209.02 L356.30,207.28 L356.80,205.47 L357.30,203.61 L357.80,201.71 L358.30,199.80 L358.79,197.88 L359.28,195.97 L359.77,194.08 L360.26,192.24 L360.74,190.46 L361.22,188.75 L361.69,187.13 L362.17,185.62 L362.65,184.22 L363.12,182.95 L363.60,181.80 L364.08,180.80 L364.56,179.94 L365.04,179.22 L365.53,178.65 L366.02,178.21 L366.51,177.89 L367.00,177.66 L367.50,177.53 L368.00,177.50 L368.50,177.60 L369.01,177.84 L369.52,178.20 L370.03,178.70 L370.54,179.34 L371.06,180.11 L371.58,181.01 L372.10,182.03 L372.63,183.17 L373.15,184.40 L373.67,185.71 L374.19,187.10 L374.71,188.54 L375.23,190.04 L375.75,191.57 L376.26,193.14 L376.78,194.73 L377.29,196.32 L377.79,197.91 L378.30,199.49 L378.80,201.06 L379.30,202.59 L379.80,204.09 L380.30,205.54 L380.80,206.95 L381.30,208.30 L381.80,209.60 L382.30,210.83 L382.80,212.00 L383.30,213.10 L383.80,214.14 L384.30,215.12 L384.80,216.03 L385.30,216.87 L385.80,217.66 L386.30,218.38 L386.80,219.05 L387.30,219.66 L387.80,220.23 L388.30,220.74 L388.80,221.21 L389.30,221.64 L389.80,222.04 L390.30,222.40 L390.80,222.72 L391.30,223.03 L391.80,223.30 L392.30,223.56 L392.80,223.79 L393.30,224.01 L393.80,224.22 L394.30,224.41 L394.80,224.58 L395.30,224.75 L395.80,224.91 L396.30,225.06 L396.80,225.20 L397.30,225.33 L397.80,225.46 L398.30,225.59 L398.80,225.70 L399.30,225.82 L399.80,225.93 L400.30,226.03 L400.80,226.13 L401.30,226.22 L401.80,226.30 L402.30,226.38 L402.80,226.45 L403.30,226.52 L403.80,226.59 L404.30,226.65 L404.80,226.70 L405.30,226.76 L405.80,226.81 L406.30,226.86 L406.80,226.90 L407.30,226.95 L407.80,226.99 L408.30,227.03 L408.80,227.08 L409.30,227.12 L409.80,227.16 L410.30,227.21 L410.80,227.26 L411.30,227.32 L411.80,227.38 L412.30,227.44 L412.80,227.51 L413.30,227.58 L413.80,227.64 L414.30,227.71 L414.80,227.78 L415.30,227.84 L415.80,227.90 L416.30,227.96 L416.80,228.02 L417.30,228.08 L417.80,228.14 L418.30,228.19 L418.80,228.24 L419.30,228.29 L419.80,228.34 L420.30,228.38 L420.80,228.41 L421.30,228.44 L421.80,228.46 L422.30,228.47 L422.80,228.47 L423.30,228.47 L423.80,228.47 L424.30,228.46 L424.80,228.45 L425.30,228.44 L425.80,228.43 L426.30,228.42 L426.80,228.40 L427.30,228.38 L427.80,228.36 L428.30,228.33 L428.80,228.29 L429.30,228.25 L429.80,228.20 L430.30,228.14 L430.80,228.07 L431.30,228.01 L431.80,227.93 L432.30,227.86 L432.80,227.78 L433.30,227.71 L433.80,227.63 L434.30,227.56 L434.80,227.49 L435.30,227.42 L435.80,227.37 L436.30,227.32 L436.80,227.28 L437.30,227.26 L437.80,227.26 L438.30,227.26 L438.80,227.28 L439.30,227.30 L439.80,227.33 L440.30,227.37 L440.80,227.41 L441.30,227.46 L441.80,227.50 L442.30,227.55 L442.80,227.61 L443.30,227.66 L443.80,227.71 L444.30,227.77 L444.80,227.82 L445.30,227.87 L445.80,227.93 L446.30,227.98 L446.80,228.04 L447.30,228.10 L447.80,228.16 L448.30,228.22 L448.80,228.28 L449.30,228.35 L449.80,228.41 L450.30,228.47 L450.80,228.53 L451.30,228.59 L451.80,228.64 L452.30,228.69 L452.80,228.74 L453.30,228.79 L453.80,228.84 L454.30,228.88 L454.80,228.92 L455.30,228.97 L455.80,229.01 L456.30,229.04 L456.80,229.08 L457.30,229.11 L457.80,229.14 L458.30,229.16 L458.80,229.17 L459.30,229.19 L459.80,229.19 L460.30,229.20 L460.80,229.20 L461.30,229.20 L461.80,229.20 L462.30,229.20 L462.80,229.20 L463.30,229.20 L463.80,229.20 L464.30,229.20 L464.80,229.20 L465.30,229.20 L465.80,229.20 L466.30,229.20 L466.80,229.20 L467.30,229.20 L467.80,229.21 L468.30,229.21 L468.80,229.21 L469.30,229.22 L469.80,229.23 L470.30,229.23 L470.80,229.24 L471.30,229.25 L471.80,229.26 L472.30,229.27 L472.80,229.28 L473.30,229.29 L473.80,229.30 L474.30,229.30 L474.80,229.31 L475.30,229.32 L475.80,229.33 L476.30,229.34 L476.80,229.35 L477.30,229.36 L477.80,229.37 L478.30,229.38 L478.80,229.39 L479.30,229.40 L479.80,229.40 L480.30,229.41 L480.80,229.42 L481.30,229.43 L481.80,229.44 L482.30,229.45 L482.80,229.46 L483.30,229.47 L483.80,229.47 L484.30,229.48 L484.80,229.48 L485.30,229.48 L485.80,229.47 L486.30,229.47 L486.80,229.46 L487.30,229.45 L487.80,229.45 L488.30,229.44 L488.80,229.43 L489.30,229.42 L489.80,229.41 L490.30,229.40 L490.80,229.39 L491.30,229.38 L491.80,229.37 L492.30,229.36 L492.80,229.35 L493.30,229.34 L493.80,229.33 L494.30,229.32 L494.80,229.31 L495.30,229.30 L495.80,229.28 L496.30,229.27 L496.80,229.26 L497.30,229.24 L497.80,229.22 L498.30,229.20 L498.80,229.17 L499.30,229.15 L499.80,229.12 L500.30,229.09 L500.80,229.06 L501.30,229.02 L501.80,228.98 L502.30,228.95 L502.80,228.91 L503.30,228.87 L503.80,228.83 L504.30,228.78 L504.80,228.74 L505.30,228.70 L505.80,228.66 L506.30,228.61 L506.80,228.57 L507.30,228.53 L507.80,228.49 L508.30,228.45 L508.80,228.40 L509.30,228.37 L509.80,228.33 L510.30,228.29 L510.80,228.25 L511.30,228.22 L511.80,228.19 L512.30,228.17 L512.80,228.15 L513.30,228.13 L513.80,228.12 L514.30,228.12 L514.80,228.12 L515.30,228.13 L515.80,228.15 L516.30,228.16 L516.80,228.19 L517.30,228.21 L517.80,228.24 L518.30,228.27 L518.80,228.30 L519.30,228.34 L519.80,228.37 L520.30,228.40 L520.80,228.44 L521.30,228.47 L521.80,228.51 L522.30,228.54 L522.80,228.58 L523.30,228.62 L523.80,228.65 L524.30,228.69 L524.80,228.72 L525.30,228.76 L525.80,228.79 L526.30,228.82 L526.80,228.86 L527.30,228.89 L527.80,228.92 L528.30,228.95 L528.80,228.97 L529.30,229.00 L529.80,229.03 L530.30,229.05 L530.80,229.08 L531.30,229.10 L531.80,229.13 L532.30,229.15 L532.80,229.18 L533.30,229.20 L533.80,229.23 L534.30,229.25 L534.80,229.28 L535.30,229.30 L535.80,229.32 L536.30,229.35 L536.80,229.37 L537.30,229.39 L537.80,229.41 L538.30,229.44 L538.80,229.45 L539.30,229.47 L539.80,229.49 L540.30,229.51 L540.80,229.52 L541.30,229.53 L541.80,229.55 L542.30,229.56 L542.80,229.56 L543.30,229.57 L543.80,229.58 L544.30,229.58 L544.80,229.58 L545.30,229.58 L545.80,229.58 L546.30,229.58 L546.80,229.58 L547.30,229.58 L547.80,229.58 L548.30,229.58 L548.80,229.58 L549.30,229.58 L549.80,229.57 L550.30,229.57 L550.80,229.57 L551.30,229.57 L551.80,229.56 L552.30,229.56 L552.80,229.56 L553.30,229.56 L553.80,229.56 L554.30,229.55 L554.80,229.55 L555.30,229.55 L555.80,229.55 L556.30,229.55 L556.80,229.54 L557.30,229.54 L557.80,229.54 L558.30,229.54 L558.80,229.53 L559.30,229.53 L559.80,229.53 L560.30,229.53 L560.80,229.53 L561.30,229.52 L561.80,229.52 L562.30,229.52 L562.80,229.52 L563.30,229.51 L563.80,229.51 L564.30,229.51 L564.80,229.51 L565.30,229.51 L565.80,229.50 L566.30,229.50 L566.80,229.50 L567.30,229.50 L567.80,229.50 L568.30,229.50 L568.60,229.50" stroke="#5252AE" stroke-width="1.1" fill="none" stroke-linejoin="round"/>
<path d="M39.10,251.70 L39.60,251.70 L40.10,251.70 L40.60,251.70 L41.10,251.69 L41.60,251.69 L42.10,251.69 L42.60,251.69 L43.10,251.69 L43.60,251.69 L44.10,251.69 L44.60,251.69 L45.10,251.69 L45.60,251.69 L46.10,251.69 L46.60,251.68 L47.10,251.68 L47.60,251.68 L48.10,251.68 L48.60,251.68 L49.10,251.68 L49.60,251.68 L50.10,251.68 L50.60,251.68 L51.10,251.67 L51.60,251.67 L52.10,251.67 L52.60,251.67 L53.10,251.67 L53.60,251.67 L54.10,251.67 L54.60,251.67 L55.10,251.67 L55.60,251.66 L56.10,251.66 L56.60,251.66 L57.10,251.66 L57.60,251.66 L58.10,251.66 L58.60,251.66 L59.10,251.66 L59.60,251.66 L60.10,251.66 L60.60,251.65 L61.10,251.65 L61.60,251.65 L62.10,251.65 L62.60,251.65 L63.10,251.65 L63.60,251.65 L64.10,251.65 L64.60,251.65 L65.10,251.64 L65.60,251.64 L66.10,251.64 L66.60,251.64 L67.10,251.64 L67.60,251.64 L68.10,251.64 L68.60,251.64 L69.10,251.64 L69.60,251.64 L70.10,251.63 L70.60,251.63 L71.10,251.63 L71.60,251.63 L72.10,251.63 L72.60,251.63 L73.10,251.63 L73.60,251.63 L74.10,251.63 L74.60,251.62 L75.10,251.62 L75.60,251.62 L76.10,251.62 L76.60,251.62 L77.10,251.62 L77.60,251.62 L78.10,251.62 L78.60,251.62 L79.10,251.61 L79.60,251.61 L80.10,251.61 L80.60,251.61 L81.10,251.61 L81.60,251.61 L82.10,251.61 L82.60,251.61 L83.10,251.61 L83.60,251.61 L84.10,251.60 L84.60,251.60 L85.10,251.60 L85.60,251.60 L86.10,251.60 L86.60,251.60 L87.10,251.60 L87.60,251.60 L88.10,251.60 L88.60,251.59 L89.10,251.59 L89.60,251.59 L90.10,251.59 L90.60,251.59 L91.10,251.59 L91.60,251.59 L92.10,251.59 L92.60,251.59 L93.10,251.59 L93.60,251.58 L94.10,251.58 L94.60,251.58 L95.10,251.58 L95.60,251.58 L96.10,251.58 L96.60,251.58 L97.10,251.58 L97.60,251.58 L98.10,251.57 L98.60,251.57 L99.10,251.57 L99.60,251.57 L100.10,251.57 L100.60,251.57 L101.10,251.57 L101.60,251.57 L102.10,251.57 L102.60,251.56 L103.10,251.56 L103.60,251.56 L104.10,251.56 L104.60,251.56 L105.10,251.56 L105.60,251.56 L106.10,251.56 L106.60,251.56 L107.10,251.56 L107.60,251.55 L108.10,251.55 L108.60,251.55 L109.10,251.55 L109.60,251.55 L110.10,251.55 L110.60,251.55 L111.10,251.55 L111.60,251.55 L112.10,251.54 L112.60,251.54 L113.10,251.54 L113.60,251.54 L114.10,251.54 L114.60,251.54 L115.10,251.54 L115.60,251.54 L116.10,251.54 L116.60,251.53 L117.10,251.53 L117.60,251.53 L118.10,251.53 L118.60,251.53 L119.10,251.53 L119.60,251.53 L120.10,251.53 L120.60,251.53 L121.10,251.53 L121.60,251.52 L122.10,251.52 L122.60,251.52 L123.10,251.52 L123.60,251.52 L124.10,251.52 L124.60,251.52 L125.10,251.52 L125.60,251.52 L126.10,251.51 L126.60,251.51 L127.10,251.51 L127.60,251.51 L128.10,251.51 L128.60,251.51 L129.10,251.51 L129.60,251.51 L130.10,251.51 L130.60,251.51 L131.10,251.50 L131.60,251.50 L132.10,251.50 L132.60,251.50 L133.10,251.50 L133.60,251.50 L134.10,251.50 L134.60,251.50 L135.10,251.50 L135.60,251.49 L136.10,251.49 L136.60,251.49 L137.10,251.49 L137.60,251.49 L138.10,251.49 L138.60,251.49 L139.10,251.49 L139.60,251.49 L140.10,251.48 L140.60,251.48 L141.10,251.48 L141.60,251.48 L142.10,251.48 L142.60,251.48 L143.10,251.48 L143.60,251.48 L144.10,251.48 L144.60,251.48 L145.10,251.47 L145.60,251.47 L146.10,251.47 L146.60,251.47 L147.10,251.47 L147.60,251.47 L148.10,251.47 L148.60,251.47 L149.10,251.47 L149.60,251.46 L150.10,251.46 L150.60,251.46 L151.10,251.46 L151.60,251.46 L152.10,251.46 L152.60,251.46 L153.10,251.46 L153.60,251.46 L154.10,251.46 L154.60,251.45 L155.10,251.45 L155.60,251.45 L156.10,251.45 L156.60,251.45 L157.10,251.45 L157.60,251.45 L158.10,251.45 L158.60,251.45 L159.10,251.44 L159.60,251.44 L160.10,251.44 L160.60,251.44 L161.10,251.44 L161.60,251.44 L162.10,251.44 L162.60,251.44 L163.10,251.44 L163.60,251.43 L164.10,251.43 L164.60,251.43 L165.10,251.43 L165.60,251.43 L166.10,251.43 L166.60,251.43 L167.10,251.43 L167.60,251.43 L168.10,251.43 L168.60,251.42 L169.10,251.42 L169.60,251.42 L170.10,251.42 L170.60,251.42 L171.10,251.42 L171.60,251.42 L172.10,251.42 L172.60,251.42 L173.10,251.41 L173.60,251.41 L174.10,251.41 L174.60,251.41 L175.10,251.41 L175.60,251.41 L176.10,251.41 L176.60,251.41 L177.10,251.40 L177.60,251.40 L178.10,251.40 L178.60,251.40 L179.10,251.40 L179.60,251.39 L180.10,251.39 L180.60,251.39 L181.10,251.38 L181.60,251.38 L182.10,251.38 L182.60,251.37 L183.10,251.37 L183.60,251.36 L184.10,251.36 L184.60,251.36 L185.10,251.35 L185.60,251.35 L186.10,251.34 L186.60,251.34 L187.10,251.33 L187.60,251.33 L188.10,251.32 L188.60,251.32 L189.10,251.31 L189.60,251.31 L190.10,251.30 L190.60,251.30 L191.10,251.29 L191.60,251.29 L192.10,251.28 L192.60,251.28 L193.10,251.27 L193.60,251.27 L194.10,251.26 L194.60,251.26 L195.10,251.25 L195.60,251.24 L196.10,251.24 L196.60,251.23 L197.10,251.23 L197.60,251.22 L198.10,251.22 L198.60,251.21 L199.10,251.20 L199.60,251.20 L200.10,251.19 L200.60,251.18 L201.10,251.18 L201.60,251.17 L202.10,251.16 L202.60,251.16 L203.10,251.15 L203.60,251.14 L204.10,251.14 L204.60,251.13 L205.10,251.12 L205.60,251.11 L206.10,251.10 L206.60,251.10 L207.10,251.09 L207.60,251.08 L208.10,251.07 L208.60,251.06 L209.10,251.05 L209.60,251.04 L210.10,251.03 L210.60,251.02 L211.10,251.01 L211.60,251.00 L212.10,250.99 L212.60,250.98 L213.10,250.97 L213.60,250.95 L214.10,250.94 L214.60,250.93 L215.10,250.91 L215.60,250.90 L216.10,250.89 L216.60,250.87 L217.10,250.86 L217.60,250.84 L218.10,250.83 L218.60,250.81 L219.10,250.79 L219.60,250.78 L220.10,250.76 L220.60,250.74 L221.10,250.72 L221.60,250.70 L222.10,250.68 L222.60,250.66 L223.10,250.64 L223.60,250.62 L224.10,250.60 L224.60,250.58 L225.10,250.56 L225.60,250.53 L226.10,250.51 L226.60,250.48 L227.10,250.46 L227.60,250.44 L228.10,250.41 L228.60,250.38 L229.10,250.36 L229.60,250.33 L230.10,250.30 L230.60,250.27 L231.10,250.24 L231.60,250.21 L232.10,250.18 L232.60,250.15 L233.10,250.11 L233.60,250.08 L234.10,250.04 L234.60,250.01 L235.10,249.97 L235.60,249.92 L236.10,249.88 L236.60,249.82 L237.10,249.77 L237.60,249.70 L238.10,249.62 L238.60,249.52 L239.10,249.40 L239.60,249.24 L240.10,249.05 L240.60,248.81 L241.10,248.51 L241.60,248.13 L242.10,247.65 L242.60,247.05 L243.10,246.31 L243.60,245.41 L244.10,244.30 L244.60,242.98 L245.10,241.40 L245.60,239.53 L246.10,237.35 L246.60,234.84 L247.10,231.97 L247.60,228.72 L248.10,225.08 L248.60,221.06 L249.10,216.65 L249.60,211.87 L250.10,206.74 L250.60,201.29 L251.10,195.57 L251.60,189.63 L252.10,183.51 L252.60,177.28 L253.10,171.01 L253.59,164.75 L254.07,158.59 L254.55,152.58 L255.02,146.78 L255.49,141.26 L255.96,136.05 L256.42,131.21 L256.88,126.75 L257.34,122.72 L257.81,119.11 L258.27,115.93 L258.74,113.17 L259.21,110.82 L259.69,108.85 L260.17,107.22 L260.65,105.89 L261.14,104.82 L261.63,103.93 L262.12,103.17 L262.61,102.50 L263.10,102.10 L263.60,101.97 L264.10,102.10 L264.61,102.49 L265.12,103.13 L265.63,104.01 L266.14,105.14 L266.66,106.51 L267.18,108.10 L267.70,109.92 L268.23,111.96 L268.75,114.20 L269.28,116.65 L269.81,119.30 L270.34,122.13 L270.86,125.13 L271.39,128.31 L271.92,131.63 L272.45,135.10 L272.97,138.70 L273.50,142.42 L274.02,146.18 L274.54,149.94 L275.06,153.69 L275.57,157.41 L276.08,161.09 L276.59,164.72 L277.09,168.28 L277.60,171.78 L278.10,175.21 L278.60,178.55 L279.10,181.79 L279.60,184.95 L280.10,188.00 L280.60,190.95 L281.10,193.80 L281.60,196.53 L282.10,199.16 L282.60,201.68 L283.10,204.09 L283.60,206.40 L284.10,208.60 L284.60,210.69 L285.10,212.68 L285.60,214.58 L286.10,216.37 L286.60,218.08 L287.10,219.70 L287.60,221.23 L288.10,222.68 L288.60,224.05 L289.10,225.34 L289.60,226.57 L290.10,227.73 L290.60,228.83 L291.10,229.86 L291.60,230.84 L292.10,231.77 L292.60,232.65 L293.10,233.49 L293.60,234.28 L294.10,235.03 L294.60,235.74 L295.10,236.42 L295.60,237.06 L296.10,237.67 L296.60,238.26 L297.10,238.82 L297.60,239.35 L298.10,239.86 L298.60,240.34 L299.10,240.81 L299.60,241.25 L300.10,241.68 L300.60,242.09 L301.10,242.48 L301.60,242.85 L302.10,243.20 L302.60,243.54 L303.10,243.86 L303.60,244.17 L304.10,244.46 L304.60,244.72 L305.10,244.97 L305.60,245.20 L306.10,245.40 L306.60,245.58 L307.10,245.74 L307.60,245.86 L308.10,245.95 L308.60,246.00 L309.10,246.01 L309.60,245.97 L310.10,245.89 L310.60,245.75 L311.10,245.55 L311.60,245.28 L312.10,244.94 L312.60,244.53 L313.10,244.04 L313.60,243.46 L314.10,242.79 L314.60,242.03 L315.10,241.18 L315.60,240.23 L316.10,239.18 L316.60,238.05 L317.10,236.82 L317.60,235.51 L318.10,234.12 L318.60,232.66 L319.10,231.13 L319.60,229.55 L320.10,227.93 L320.60,226.27 L321.10,224.59 L321.60,222.91 L322.09,221.24 L322.59,219.58 L323.08,217.96 L323.56,216.38 L324.05,214.86 L324.53,213.40 L325.01,212.01 L325.49,210.70 L325.96,209.48 L326.44,208.35 L326.92,207.32 L327.40,206.38 L327.88,205.54 L328.36,204.79 L328.85,204.15 L329.33,203.61 L329.82,203.17 L330.31,202.81 L330.81,202.55 L331.30,202.36 L331.80,202.30 L332.30,202.40 L332.81,202.64 L333.32,203.03 L333.83,203.55 L334.35,204.17 L334.87,204.87 L335.38,205.65 L335.90,206.50 L336.42,207.41 L336.94,208.39 L337.46,209.42 L337.98,210.50 L338.50,211.62 L339.02,212.78 L339.53,213.97 L340.05,215.18 L340.56,216.41 L341.07,217.65 L341.58,218.90 L342.09,220.15 L342.60,221.40 L343.10,222.64 L343.60,223.86 L344.10,225.07 L344.60,226.26 L345.10,227.43 L345.60,228.57 L346.10,229.68 L346.60,230.75 L347.10,231.80 L347.60,232.80 L348.10,233.78 L348.60,234.71 L349.10,235.60 L349.60,236.46 L350.10,237.27 L350.60,238.05 L351.10,238.78 L351.60,239.48 L352.10,240.14 L352.60,240.76 L353.10,241.35 L353.60,241.90 L354.10,242.41 L354.60,242.89 L355.10,243.34 L355.60,243.76 L356.10,244.16 L356.60,244.52 L357.10,244.85 L357.60,245.17 L358.10,245.46 L358.60,245.72 L359.10,245.97 L359.60,246.20 L360.10,246.41 L360.60,246.60 L361.10,246.78 L361.60,246.94 L362.10,247.09 L362.60,247.23 L363.10,247.35 L363.60,247.47 L364.10,247.58 L364.60,247.68 L365.10,247.77 L365.60,247.85 L366.10,247.93 L366.60,248.01 L367.10,248.07 L367.60,248.14 L368.10,248.20 L368.60,248.25 L369.10,248.30 L369.60,248.35 L370.10,248.40 L370.60,248.45 L371.10,248.49 L371.60,248.54 L372.10,248.59 L372.60,248.63 L373.10,248.68 L373.60,248.73 L374.10,248.78 L374.60,248.83 L375.10,248.88 L375.60,248.93 L376.10,248.97 L376.60,249.02 L377.10,249.07 L377.60,249.11 L378.10,249.16 L378.60,249.20 L379.10,249.25 L379.60,249.29 L380.10,249.32 L380.60,249.36 L381.10,249.39 L381.60,249.41 L382.10,249.44 L382.60,249.46 L383.10,249.48 L383.60,249.50 L384.10,249.51 L384.60,249.53 L385.10,249.55 L385.60,249.56 L386.10,249.58 L386.60,249.59 L387.10,249.61 L387.60,249.62 L388.10,249.63 L388.60,249.65 L389.10,249.65 L389.60,249.66 L390.10,249.66 L390.60,249.66 L391.10,249.65 L391.60,249.64 L392.10,249.63 L392.60,249.61 L393.10,249.59 L393.60,249.57 L394.10,249.55 L394.60,249.53 L395.10,249.51 L395.60,249.49 L396.10,249.47 L396.60,249.44 L397.10,249.42 L397.60,249.40 L398.10,249.37 L398.60,249.35 L399.10,249.33 L399.60,249.31 L400.10,249.29 L400.60,249.27 L401.10,249.26 L401.60,249.25 L402.10,249.24 L402.60,249.24 L403.10,249.25 L403.60,249.25 L404.10,249.26 L404.60,249.27 L405.10,249.28 L405.60,249.29 L406.10,249.31 L406.60,249.32 L407.10,249.33 L407.60,249.34 L408.10,249.35 L408.60,249.36 L409.10,249.37 L409.60,249.38 L410.10,249.40 L410.60,249.42 L411.10,249.44 L411.60,249.47 L412.10,249.51 L412.60,249.55 L413.10,249.60 L413.60,249.65 L414.10,249.70 L414.60,249.75 L415.10,249.80 L415.60,249.85 L416.10,249.90 L416.60,249.96 L417.10,250.01 L417.60,250.06 L418.10,250.11 L418.60,250.16 L419.10,250.20 L419.60,250.25 L420.10,250.29 L420.60,250.32 L421.10,250.35 L421.60,250.38 L422.10,250.40 L422.60,250.41 L423.10,250.42 L423.60,250.43 L424.10,250.44 L424.60,250.45 L425.10,250.45 L425.60,250.46 L426.10,250.47 L426.60,250.47 L427.10,250.48 L427.60,250.49 L428.10,250.50 L428.60,250.51 L429.10,250.51 L429.60,250.52 L430.10,250.53 L430.60,250.54 L431.10,250.56 L431.60,250.57 L432.10,250.58 L432.60,250.59 L433.10,250.61 L433.60,250.62 L434.10,250.64 L434.60,250.65 L435.10,250.66 L435.60,250.68 L436.10,250.69 L436.60,250.71 L437.10,250.72 L437.60,250.74 L438.10,250.75 L438.60,250.76 L439.10,250.78 L439.60,250.79 L440.10,250.81 L440.60,250.82 L441.10,250.83 L441.60,250.85 L442.10,250.86 L442.60,250.87 L443.10,250.89 L443.60,250.90 L444.10,250.91 L444.60,250.92 L445.10,250.94 L445.60,250.95 L446.10,250.96 L446.60,250.97 L447.10,250.97 L447.60,250.98 L448.10,250.98 L448.60,250.98 L449.10,250.98 L449.60,250.98 L450.10,250.97 L450.60,250.97 L451.10,250.95 L451.60,250.94 L452.10,250.92 L452.60,250.91 L453.10,250.88 L453.60,250.86 L454.10,250.83 L454.60,250.80 L455.10,250.77 L455.60,250.74 L456.10,250.70 L456.60,250.66 L457.10,250.61 L457.60,250.57 L458.10,250.52 L458.60,250.48 L459.10,250.43 L459.60,250.39 L460.10,250.34 L460.60,250.30 L461.10,250.25 L461.60,250.21 L462.10,250.17 L462.60,250.12 L463.10,250.08 L463.60,250.04 L464.10,250.01 L464.60,249.97 L465.10,249.94 L465.60,249.91 L466.10,249.88 L466.60,249.85 L467.10,249.83 L467.60,249.80 L468.10,249.77 L468.60,249.74 L469.10,249.72 L469.60,249.69 L470.10,249.66 L470.60,249.64 L471.10,249.61 L471.60,249.58 L472.10,249.56 L472.60,249.53 L473.10,249.51 L473.60,249.49 L474.10,249.47 L474.60,249.45 L475.10,249.43 L475.60,249.42 L476.10,249.41 L476.60,249.40 L477.10,249.39 L477.60,249.39 L478.10,249.39 L478.60,249.39 L479.10,249.39 L479.60,249.40 L480.10,249.40 L480.60,249.41 L481.10,249.43 L481.60,249.44 L482.10,249.46 L482.60,249.47 L483.10,249.49 L483.60,249.51 L484.10,249.52 L484.60,249.54 L485.10,249.56 L485.60,249.58 L486.10,249.60 L486.60,249.62 L487.10,249.64 L487.60,249.66 L488.10,249.69 L488.60,249.72 L489.10,249.75 L489.60,249.78 L490.10,249.81 L490.60,249.85 L491.10,249.89 L491.60,249.93 L492.10,249.97 L492.60,250.01 L493.10,250.06 L493.60,250.10 L494.10,250.14 L494.60,250.18 L495.10,250.22 L495.60,250.26 L496.10,250.30 L496.60,250.34 L497.10,250.38 L497.60,250.41 L498.10,250.45 L498.60,250.48 L499.10,250.50 L499.60,250.53 L500.10,250.55 L500.60,250.57 L501.10,250.58 L501.60,250.60 L502.10,250.61 L502.60,250.63 L503.10,250.64 L503.60,250.65 L504.10,250.66 L504.60,250.67 L505.10,250.68 L505.60,250.68 L506.10,250.69 L506.60,250.69 L507.10,250.70 L507.60,250.70 L508.10,250.70 L508.60,250.70 L509.10,250.70 L509.60,250.70 L510.10,250.70 L510.60,250.70 L511.10,250.70 L511.60,250.70 L512.10,250.70 L512.60,250.71 L513.10,250.71 L513.60,250.71 L514.10,250.71 L514.60,250.71 L515.10,250.72 L515.60,250.72 L516.10,250.72 L516.60,250.73 L517.10,250.73 L517.60,250.73 L518.10,250.74 L518.60,250.74 L519.10,250.74 L519.60,250.75 L520.10,250.75 L520.60,250.75 L521.10,250.76 L521.60,250.76 L522.10,250.76 L522.60,250.77 L523.10,250.77 L523.60,250.77 L524.10,250.78 L524.60,250.78 L525.10,250.78 L525.60,250.79 L526.10,250.79 L526.60,250.80 L527.10,250.80 L527.60,250.81 L528.10,250.82 L528.60,250.82 L529.10,250.83 L529.60,250.84 L530.10,250.85 L530.60,250.86 L531.10,250.87 L531.60,250.88 L532.10,250.90 L532.60,250.91 L533.10,250.92 L533.60,250.93 L534.10,250.94 L534.60,250.95 L535.10,250.96 L535.60,250.97 L536.10,250.98 L536.60,250.99 L537.10,251.00 L537.60,251.01 L538.10,251.02 L538.60,251.03 L539.10,251.04 L539.60,251.05 L540.10,251.06 L540.60,251.07 L541.10,251.08 L541.60,251.09 L542.10,251.10 L542.60,251.10 L543.10,251.11" stroke="#C85C5C" stroke-width="1.1" fill="none" stroke-linejoin="round"/>
<g font-family="Liberation Sans, sans-serif" font-size="9.6" fill="#111" stroke="#111" stroke-width="0.25" text-anchor="middle" style="will-change:transform">
<text transform="translate(9.60,285.0) scale(1.13,1)">1.70</text>
<text transform="translate(70.00,285.0) scale(1.13,1)">1.80</text>
<text transform="translate(130.40,285.0) scale(1.13,1)">1.90</text>
<text transform="translate(190.80,285.0) scale(1.13,1)">2.00</text>
<text transform="translate(251.20,285.0) scale(1.13,1)">2.10</text>
<text transform="translate(311.60,285.0) scale(1.13,1)">2.20</text>
<text transform="translate(372.00,285.0) scale(1.13,1)">2.30</text>
<text transform="translate(432.40,285.0) scale(1.13,1)">2.40</text>
<text transform="translate(492.80,285.0) scale(1.13,1)">2.50</text>
<text transform="translate(262.2,296.8) scale(1.17,1)" font-size="9.0">Minutes</text>
</g>
<g font-family="Liberation Sans, sans-serif" font-weight="bold" font-size="11.4" text-anchor="middle" stroke-width="0.3" style="will-change:transform">
<text transform="translate(495.3,131.0) scale(0.9,1)" fill="#6F9E3C" stroke="#6F9E3C">Gd</text>
<text transform="translate(530.0,158.3) scale(0.9,1)" fill="#F030C8" stroke="#F030C8">Zn</text>
<text transform="translate(564.0,178.3) scale(0.9,1)" fill="#000000" stroke="#000000">Cu</text>
<text transform="translate(441.25,202.8) scale(0.9,1)" fill="#1EB04E" stroke="#1EB04E">Fe</text>
<text transform="translate(370.2,220.7) scale(0.9,1)" fill="#7C96BC" stroke="#7C96BC">Dy</text>
<text transform="translate(330.85,246.5) scale(0.9,1)" fill="#FF0000" stroke="#FF0000">Tb</text>
</g>
</svg>
</body></html>
